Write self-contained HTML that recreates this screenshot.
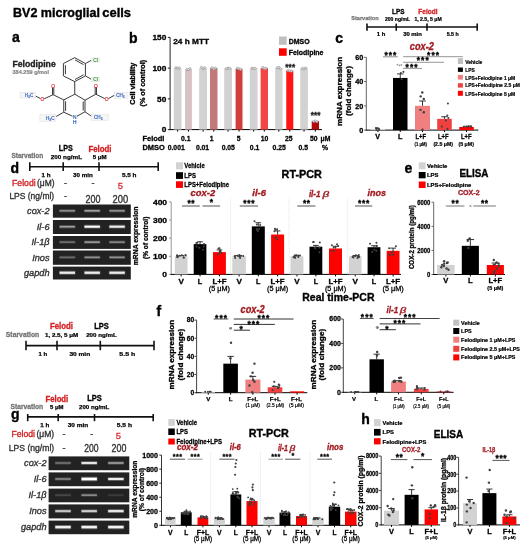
<!DOCTYPE html>
<html><head><meta charset="utf-8"><style>
html,body{margin:0;padding:0;background:#fff;}
svg{display:block;font-family:"Liberation Sans",sans-serif;}
</style></head><body>
<svg width="528" height="550" viewBox="0 0 528 550">
<defs><filter id="bl" x="0" y="0" width="100%" height="100%" color-interpolation-filters="sRGB"><feGaussianBlur stdDeviation="0.5"/></filter></defs>
<g filter="url(#bl)">
<rect width="528" height="550" fill="#fff"/>
<text x="13.00" y="16.60" font-size="12" font-weight="bold" textLength="87.00" lengthAdjust="spacingAndGlyphs" stroke="#000" stroke-width="0.35">BV2 microglial</text>
<text x="102.30" y="16.60" font-size="12" font-weight="bold" textLength="28.70" lengthAdjust="spacingAndGlyphs" stroke="#000" stroke-width="0.35">cells</text>
<text x="12.00" y="42.30" font-size="14" font-weight="bold" stroke="#000" stroke-width="0.35">a</text>
<text x="129.00" y="42.50" font-size="14" font-weight="bold" stroke="#000" stroke-width="0.35">b</text>
<text x="335.30" y="42.70" font-size="14" font-weight="bold" stroke="#000" stroke-width="0.35">c</text>
<text x="10.60" y="172.60" font-size="14" font-weight="bold" stroke="#000" stroke-width="0.35">d</text>
<text x="404.60" y="173.30" font-size="14" font-weight="bold" stroke="#000" stroke-width="0.35">e</text>
<text x="156.50" y="316.30" font-size="14" font-weight="bold" stroke="#000" stroke-width="0.35">f</text>
<text x="10.90" y="419.40" font-size="14" font-weight="bold" stroke="#000" stroke-width="0.35">g</text>
<text x="361.20" y="423.50" font-size="14" font-weight="bold" stroke="#000" stroke-width="0.35">h</text>
<text x="12.50" y="66.80" font-size="8.6" font-weight="bold" fill="#222" textLength="43.20" lengthAdjust="spacingAndGlyphs" stroke="#222" stroke-width="0.34">Felodipine</text>
<text x="12.50" y="74.20" font-size="5.4" font-weight="bold" fill="#888" textLength="36.50" lengthAdjust="spacingAndGlyphs" stroke="#888" stroke-width="0.22">384.259 g/mol</text>
<line x1="74.70" y1="57.70" x2="85.40" y2="63.50" stroke="#303030" stroke-width="0.95"/>
<line x1="85.40" y1="63.50" x2="85.40" y2="75.90" stroke="#303030" stroke-width="0.95"/>
<line x1="85.40" y1="75.90" x2="74.70" y2="81.60" stroke="#303030" stroke-width="0.95"/>
<line x1="74.70" y1="81.60" x2="63.40" y2="75.90" stroke="#303030" stroke-width="0.95"/>
<line x1="63.40" y1="75.90" x2="63.40" y2="63.50" stroke="#303030" stroke-width="0.95"/>
<line x1="63.40" y1="63.50" x2="74.70" y2="57.70" stroke="#303030" stroke-width="0.95"/>
<line x1="65.40" y1="65.20" x2="65.40" y2="74.20" stroke="#303030" stroke-width="0.95"/>
<line x1="75.00" y1="59.90" x2="83.50" y2="64.60" stroke="#303030" stroke-width="0.95"/>
<line x1="83.50" y1="74.80" x2="75.00" y2="79.50" stroke="#303030" stroke-width="0.95"/>
<line x1="74.70" y1="81.60" x2="74.80" y2="94.20" stroke="#303030" stroke-width="0.95"/>
<line x1="74.80" y1="94.20" x2="85.00" y2="100.20" stroke="#303030" stroke-width="0.95"/>
<line x1="85.00" y1="100.20" x2="85.00" y2="111.80" stroke="#303030" stroke-width="0.95"/>
<line x1="85.00" y1="111.80" x2="77.00" y2="116.20" stroke="#303030" stroke-width="0.95"/>
<line x1="72.50" y1="116.20" x2="63.75" y2="112.20" stroke="#303030" stroke-width="0.95"/>
<line x1="63.75" y1="112.20" x2="63.75" y2="99.90" stroke="#303030" stroke-width="0.95"/>
<line x1="63.75" y1="99.90" x2="74.80" y2="94.20" stroke="#303030" stroke-width="0.95"/>
<line x1="83.20" y1="101.50" x2="83.20" y2="110.50" stroke="#303030" stroke-width="0.95"/>
<line x1="65.60" y1="101.30" x2="65.60" y2="110.90" stroke="#303030" stroke-width="0.95"/>
<line x1="85.40" y1="63.50" x2="91.20" y2="60.40" stroke="#303030" stroke-width="0.95"/>
<line x1="85.40" y1="75.90" x2="91.20" y2="79.20" stroke="#303030" stroke-width="0.95"/>
<line x1="85.00" y1="100.20" x2="95.80" y2="94.20" stroke="#303030" stroke-width="0.95"/>
<line x1="95.20" y1="94.20" x2="95.20" y2="87.00" stroke="#303030" stroke-width="0.95"/>
<line x1="96.50" y1="94.20" x2="96.50" y2="87.00" stroke="#303030" stroke-width="0.95"/>
<line x1="95.80" y1="94.20" x2="104.80" y2="98.60" stroke="#303030" stroke-width="0.95"/>
<line x1="108.40" y1="98.60" x2="114.50" y2="95.20" stroke="#303030" stroke-width="0.95"/>
<line x1="63.75" y1="99.90" x2="53.10" y2="94.70" stroke="#303030" stroke-width="0.95"/>
<line x1="52.50" y1="94.70" x2="52.50" y2="87.50" stroke="#303030" stroke-width="0.95"/>
<line x1="53.80" y1="94.70" x2="53.80" y2="87.50" stroke="#303030" stroke-width="0.95"/>
<line x1="53.10" y1="94.70" x2="44.20" y2="98.80" stroke="#303030" stroke-width="0.95"/>
<line x1="40.50" y1="98.60" x2="35.50" y2="96.00" stroke="#303030" stroke-width="0.95"/>
<line x1="85.00" y1="111.80" x2="91.50" y2="116.30" stroke="#303030" stroke-width="0.95"/>
<line x1="63.75" y1="112.20" x2="56.00" y2="116.60" stroke="#303030" stroke-width="0.95"/>
<rect x="91.50" y="57.80" width="8.00" height="4.70" fill="#f6f6f6" stroke="#dddddd" stroke-width="0.5"/>
<rect x="91.50" y="77.20" width="8.00" height="4.60" fill="#f6f6f6" stroke="#dddddd" stroke-width="0.5"/>
<rect x="114.60" y="92.50" width="13.40" height="5.70" fill="#f6f6f6" stroke="#dddddd" stroke-width="0.5"/>
<rect x="91.30" y="114.70" width="17.00" height="5.60" fill="#f6f6f6" stroke="#dddddd" stroke-width="0.5"/>
<rect x="20.00" y="92.30" width="15.20" height="5.70" fill="#f6f6f6" stroke="#dddddd" stroke-width="0.5"/>
<rect x="39.90" y="114.60" width="16.10" height="6.60" fill="#f6f6f6" stroke="#dddddd" stroke-width="0.5"/>
<text x="95.50" y="62.00" font-size="4.8" fill="#3a9a3a" text-anchor="middle" stroke="#3a9a3a" stroke-width="0.19">Cl</text>
<text x="95.50" y="81.40" font-size="4.8" fill="#3a9a3a" text-anchor="middle" stroke="#3a9a3a" stroke-width="0.19">Cl</text>
<text x="95.80" y="87.70" font-size="4.8" fill="#e03030" text-anchor="middle" stroke="#e03030" stroke-width="0.19">O</text>
<text x="106.60" y="101.20" font-size="4.8" fill="#e03030" text-anchor="middle" stroke="#e03030" stroke-width="0.19">O</text>
<text x="53.10" y="88.20" font-size="4.8" fill="#e03030" text-anchor="middle" stroke="#e03030" stroke-width="0.19">O</text>
<text x="42.30" y="101.30" font-size="4.8" fill="#e03030" text-anchor="middle" stroke="#e03030" stroke-width="0.19">O</text>
<text x="120.50" y="96.80" font-size="4.6" fill="#3060c0" text-anchor="middle" stroke="#3060c0" stroke-width="0.18">CH₃</text>
<text x="98.30" y="119.20" font-size="4.6" fill="#3060c0" text-anchor="middle" stroke="#3060c0" stroke-width="0.18">CH₃</text>
<text x="29.00" y="97.20" font-size="4.6" fill="#3060c0" text-anchor="middle" stroke="#3060c0" stroke-width="0.18">H₃C</text>
<text x="50.30" y="119.50" font-size="4.6" fill="#3060c0" text-anchor="middle" stroke="#3060c0" stroke-width="0.18">H₃C</text>
<text x="74.80" y="119.40" font-size="4.8" fill="#3060c0" text-anchor="middle" stroke="#3060c0" stroke-width="0.19">N</text>
<text x="74.80" y="123.80" font-size="4.8" fill="#3060c0" text-anchor="middle" stroke="#3060c0" stroke-width="0.19">H</text>
<line x1="170.10" y1="130.10" x2="170.10" y2="37.40" stroke="#222" stroke-width="1.0"/>
<line x1="167.90" y1="129.60" x2="170.10" y2="129.60" stroke="#222" stroke-width="1.0"/>
<text x="166.30" y="132.48" font-size="8.0" font-weight="bold" text-anchor="end" textLength="4.60" lengthAdjust="spacingAndGlyphs" stroke="#000" stroke-width="0.32">0</text>
<line x1="167.90" y1="98.87" x2="170.10" y2="98.87" stroke="#222" stroke-width="1.0"/>
<text x="166.30" y="101.75" font-size="8.0" font-weight="bold" text-anchor="end" textLength="9.20" lengthAdjust="spacingAndGlyphs" stroke="#000" stroke-width="0.32">50</text>
<line x1="167.90" y1="68.13" x2="170.10" y2="68.13" stroke="#222" stroke-width="1.0"/>
<text x="166.30" y="71.01" font-size="8.0" font-weight="bold" text-anchor="end" textLength="13.80" lengthAdjust="spacingAndGlyphs" stroke="#000" stroke-width="0.32">100</text>
<line x1="167.90" y1="37.40" x2="170.10" y2="37.40" stroke="#222" stroke-width="1.0"/>
<text x="166.30" y="40.28" font-size="8.0" font-weight="bold" text-anchor="end" textLength="13.80" lengthAdjust="spacingAndGlyphs" stroke="#000" stroke-width="0.32">150</text>
<text x="135.40" y="83.75" font-size="8.0" text-anchor="middle" font-weight="bold" textLength="42.10" lengthAdjust="spacingAndGlyphs" transform="rotate(-90 135.40 83.75)" stroke="#000" stroke-width="0.32">Cell viability</text>
<text x="145.00" y="83.20" font-size="8.0" text-anchor="middle" font-weight="bold" textLength="46.60" lengthAdjust="spacingAndGlyphs" transform="rotate(-90 145.00 83.20)" stroke="#000" stroke-width="0.32">(% of control)</text>
<text x="173.20" y="43.50" font-size="7.6" font-weight="bold" textLength="35.80" lengthAdjust="spacingAndGlyphs" stroke="#000" stroke-width="0.30">24 h MTT</text>
<line x1="169.60" y1="129.60" x2="322.00" y2="129.60" stroke="#000" stroke-width="1.0"/>
<line x1="177.62" y1="129.60" x2="177.62" y2="131.60" stroke="#000" stroke-width="1.0"/>
<line x1="188.45" y1="129.60" x2="188.45" y2="131.60" stroke="#000" stroke-width="1.0"/>
<line x1="203.10" y1="129.60" x2="203.10" y2="131.60" stroke="#000" stroke-width="1.0"/>
<line x1="213.75" y1="129.60" x2="213.75" y2="131.60" stroke="#000" stroke-width="1.0"/>
<line x1="228.10" y1="129.60" x2="228.10" y2="131.60" stroke="#000" stroke-width="1.0"/>
<line x1="239.05" y1="129.60" x2="239.05" y2="131.60" stroke="#000" stroke-width="1.0"/>
<line x1="253.65" y1="129.60" x2="253.65" y2="131.60" stroke="#000" stroke-width="1.0"/>
<line x1="264.30" y1="129.60" x2="264.30" y2="131.60" stroke="#000" stroke-width="1.0"/>
<line x1="278.85" y1="129.60" x2="278.85" y2="131.60" stroke="#000" stroke-width="1.0"/>
<line x1="289.77" y1="129.60" x2="289.77" y2="131.60" stroke="#000" stroke-width="1.0"/>
<line x1="304.05" y1="129.60" x2="304.05" y2="131.60" stroke="#000" stroke-width="1.0"/>
<line x1="315.35" y1="129.60" x2="315.35" y2="131.60" stroke="#000" stroke-width="1.0"/>
<rect x="173.75" y="68.13" width="7.75" height="61.47" fill="#d2d2d2"/>
<circle cx="176.00" cy="67.71" r="1.1" fill="#e8e8e8" stroke="#888" stroke-width="0.55"/>
<circle cx="177.62" cy="68.20" r="1.1" fill="#e8e8e8" stroke="#888" stroke-width="0.55"/>
<circle cx="179.25" cy="67.93" r="1.1" fill="#e8e8e8" stroke="#888" stroke-width="0.55"/>
<rect x="185.00" y="69.36" width="6.90" height="60.24" fill="#d6c2c2"/>
<circle cx="186.83" cy="69.53" r="1.1" fill="#e8e8e8" stroke="#888" stroke-width="0.55"/>
<circle cx="188.45" cy="69.56" r="1.1" fill="#e8e8e8" stroke="#888" stroke-width="0.55"/>
<circle cx="190.07" cy="68.67" r="1.1" fill="#e8e8e8" stroke="#888" stroke-width="0.55"/>
<rect x="199.20" y="68.13" width="7.80" height="61.47" fill="#d2d2d2"/>
<circle cx="201.48" cy="67.35" r="1.1" fill="#e8e8e8" stroke="#888" stroke-width="0.55"/>
<circle cx="203.10" cy="68.67" r="1.1" fill="#e8e8e8" stroke="#888" stroke-width="0.55"/>
<circle cx="204.72" cy="67.75" r="1.1" fill="#e8e8e8" stroke="#888" stroke-width="0.55"/>
<rect x="210.00" y="68.13" width="7.50" height="61.47" fill="#c07a7a"/>
<circle cx="212.13" cy="67.71" r="1.1" fill="#e8e8e8" stroke="#888" stroke-width="0.55"/>
<circle cx="213.75" cy="68.93" r="1.1" fill="#e8e8e8" stroke="#888" stroke-width="0.55"/>
<circle cx="215.37" cy="68.09" r="1.1" fill="#e8e8e8" stroke="#888" stroke-width="0.55"/>
<rect x="224.20" y="68.13" width="7.80" height="61.47" fill="#d2d2d2"/>
<circle cx="226.48" cy="68.67" r="1.1" fill="#e8e8e8" stroke="#888" stroke-width="0.55"/>
<circle cx="228.10" cy="68.10" r="1.1" fill="#e8e8e8" stroke="#888" stroke-width="0.55"/>
<circle cx="229.72" cy="68.36" r="1.1" fill="#e8e8e8" stroke="#888" stroke-width="0.55"/>
<rect x="235.60" y="68.75" width="6.90" height="60.85" fill="#d23d3d"/>
<circle cx="237.43" cy="68.19" r="1.1" fill="#e8e8e8" stroke="#888" stroke-width="0.55"/>
<circle cx="239.05" cy="68.96" r="1.1" fill="#e8e8e8" stroke="#888" stroke-width="0.55"/>
<circle cx="240.67" cy="69.34" r="1.1" fill="#e8e8e8" stroke="#888" stroke-width="0.55"/>
<rect x="249.80" y="68.13" width="7.70" height="61.47" fill="#d2d2d2"/>
<circle cx="252.03" cy="68.17" r="1.1" fill="#e8e8e8" stroke="#888" stroke-width="0.55"/>
<circle cx="253.65" cy="68.52" r="1.1" fill="#e8e8e8" stroke="#888" stroke-width="0.55"/>
<circle cx="255.27" cy="68.41" r="1.1" fill="#e8e8e8" stroke="#888" stroke-width="0.55"/>
<rect x="260.60" y="68.13" width="7.40" height="61.47" fill="#f24646"/>
<circle cx="262.68" cy="67.44" r="1.1" fill="#e8e8e8" stroke="#888" stroke-width="0.55"/>
<circle cx="264.30" cy="68.55" r="1.1" fill="#e8e8e8" stroke="#888" stroke-width="0.55"/>
<circle cx="265.92" cy="68.28" r="1.1" fill="#e8e8e8" stroke="#888" stroke-width="0.55"/>
<rect x="275.20" y="68.13" width="7.30" height="61.47" fill="#d2d2d2"/>
<circle cx="277.23" cy="67.82" r="1.1" fill="#e8e8e8" stroke="#888" stroke-width="0.55"/>
<circle cx="278.85" cy="67.38" r="1.1" fill="#e8e8e8" stroke="#888" stroke-width="0.55"/>
<circle cx="280.47" cy="68.72" r="1.1" fill="#e8e8e8" stroke="#888" stroke-width="0.55"/>
<rect x="286.25" y="70.59" width="7.05" height="59.01" fill="#ff1515"/>
<circle cx="288.15" cy="70.55" r="1.1" fill="#e8e8e8" stroke="#888" stroke-width="0.55"/>
<circle cx="289.77" cy="70.94" r="1.1" fill="#e8e8e8" stroke="#888" stroke-width="0.55"/>
<circle cx="291.39" cy="71.20" r="1.1" fill="#e8e8e8" stroke="#888" stroke-width="0.55"/>
<rect x="300.20" y="68.13" width="7.70" height="61.47" fill="#d2d2d2"/>
<circle cx="302.43" cy="68.48" r="1.1" fill="#e8e8e8" stroke="#888" stroke-width="0.55"/>
<circle cx="304.05" cy="68.81" r="1.1" fill="#e8e8e8" stroke="#888" stroke-width="0.55"/>
<circle cx="305.67" cy="67.97" r="1.1" fill="#e8e8e8" stroke="#888" stroke-width="0.55"/>
<rect x="311.70" y="120.99" width="7.30" height="8.61" fill="#b00a0a"/>
<circle cx="313.73" cy="121.48" r="1.1" fill="#e8e8e8" stroke="#888" stroke-width="0.55"/>
<circle cx="315.35" cy="120.91" r="1.1" fill="#e8e8e8" stroke="#888" stroke-width="0.55"/>
<circle cx="316.97" cy="121.69" r="1.1" fill="#e8e8e8" stroke="#888" stroke-width="0.55"/>
<text x="285.14" y="69.78" font-size="8.2" font-weight="bold" fill="#222" stroke="#222" stroke-width="0.33" letter-spacing="0.31">***</text>
<text x="310.64" y="117.68" font-size="8.2" font-weight="bold" fill="#222" stroke="#222" stroke-width="0.33" letter-spacing="0.11">***</text>
<rect x="279.00" y="36.50" width="7.70" height="8.30" fill="#c0c0c0"/>
<text x="288.70" y="43.60" font-size="7.2" font-weight="bold" textLength="20.90" lengthAdjust="spacingAndGlyphs" stroke="#000" stroke-width="0.29">DMSO</text>
<rect x="279.00" y="48.30" width="7.70" height="7.50" fill="#ff0000"/>
<text x="288.70" y="55.20" font-size="7.2" font-weight="bold" textLength="34.80" lengthAdjust="spacingAndGlyphs" stroke="#000" stroke-width="0.29">Felodipine</text>
<text x="142.50" y="141.30" font-size="6.8" font-weight="bold" textLength="21.90" lengthAdjust="spacingAndGlyphs" stroke="#000" stroke-width="0.27">Felodi</text>
<text x="142.50" y="149.60" font-size="6.8" font-weight="bold" textLength="22.30" lengthAdjust="spacingAndGlyphs" stroke="#000" stroke-width="0.27">DMSO</text>
<text x="185.80" y="141.30" font-size="6.8" font-weight="bold" text-anchor="middle" stroke="#000" stroke-width="0.27">0.1</text>
<text x="211.70" y="141.30" font-size="6.8" font-weight="bold" text-anchor="middle" stroke="#000" stroke-width="0.27">1</text>
<text x="238.75" y="141.30" font-size="6.8" font-weight="bold" text-anchor="middle" stroke="#000" stroke-width="0.27">5</text>
<text x="264.60" y="141.30" font-size="6.8" font-weight="bold" text-anchor="middle" stroke="#000" stroke-width="0.27">10</text>
<text x="288.75" y="141.30" font-size="6.8" font-weight="bold" text-anchor="middle" stroke="#000" stroke-width="0.27">25</text>
<text x="313.75" y="141.30" font-size="6.8" font-weight="bold" text-anchor="middle" stroke="#000" stroke-width="0.27">50</text>
<text x="320.50" y="141.30" font-size="6.8" font-weight="bold" stroke="#000" stroke-width="0.27">μM</text>
<text x="176.20" y="149.60" font-size="6.8" font-weight="bold" text-anchor="middle" stroke="#000" stroke-width="0.27">0.001</text>
<text x="202.50" y="149.60" font-size="6.8" font-weight="bold" text-anchor="middle" stroke="#000" stroke-width="0.27">0.01</text>
<text x="228.30" y="149.60" font-size="6.8" font-weight="bold" text-anchor="middle" stroke="#000" stroke-width="0.27">0.05</text>
<text x="254.60" y="149.60" font-size="6.8" font-weight="bold" text-anchor="middle" stroke="#000" stroke-width="0.27">0.1</text>
<text x="279.20" y="149.60" font-size="6.8" font-weight="bold" text-anchor="middle" stroke="#000" stroke-width="0.27">0.25</text>
<text x="303.30" y="149.60" font-size="6.8" font-weight="bold" text-anchor="middle" stroke="#000" stroke-width="0.27">0.5</text>
<text x="325.00" y="149.60" font-size="6.8" font-weight="bold" text-anchor="middle" stroke="#000" stroke-width="0.27">%</text>
<line x1="367.00" y1="27.00" x2="477.20" y2="27.00" stroke="#111" stroke-width="1.6"/>
<line x1="367.00" y1="23.60" x2="367.00" y2="30.80" stroke="#111" stroke-width="1.6"/>
<line x1="396.25" y1="23.60" x2="396.25" y2="30.80" stroke="#111" stroke-width="1.6"/>
<line x1="427.00" y1="23.60" x2="427.00" y2="30.80" stroke="#111" stroke-width="1.6"/>
<line x1="477.20" y1="23.60" x2="477.20" y2="30.80" stroke="#111" stroke-width="1.6"/>
<text x="351.20" y="19.70" font-size="6.2" font-weight="bold" fill="#737373" textLength="27.40" lengthAdjust="spacingAndGlyphs" stroke="#737373" stroke-width="0.25">Starvation</text>
<text x="392.00" y="14.10" font-size="8.0" font-weight="bold" textLength="12.40" lengthAdjust="spacingAndGlyphs" stroke="#000" stroke-width="0.32">LPS</text>
<text x="385.00" y="20.60" font-size="5.9" font-weight="bold" textLength="25.00" lengthAdjust="spacingAndGlyphs" stroke="#000" stroke-width="0.24">200 ng/mL</text>
<text x="418.30" y="14.10" font-size="8.0" font-weight="bold" fill="#d42225" textLength="19.30" lengthAdjust="spacingAndGlyphs" stroke="#d42225" stroke-width="0.32">Felodi</text>
<text x="414.40" y="20.60" font-size="5.9" font-weight="bold" textLength="27.30" lengthAdjust="spacingAndGlyphs" stroke="#000" stroke-width="0.24">1, 2.5, 5 μM</text>
<text x="381.00" y="36.10" font-size="5.9" font-weight="bold" text-anchor="middle" stroke="#000" stroke-width="0.24">1 h</text>
<text x="412.50" y="36.10" font-size="5.9" font-weight="bold" text-anchor="middle" stroke="#000" stroke-width="0.24">30 min</text>
<text x="452.70" y="36.10" font-size="5.9" font-weight="bold" text-anchor="middle" textLength="12.00" lengthAdjust="spacingAndGlyphs" stroke="#000" stroke-width="0.24">5.5 h</text>
<text x="409.80" y="50.30" font-size="10" font-weight="bold" fill="#a31c22" font-style="italic" textLength="24.00" lengthAdjust="spacingAndGlyphs" stroke="#a31c22" stroke-width="0.35">cox-2</text>
<line x1="366.30" y1="130.60" x2="366.30" y2="57.30" stroke="#666" stroke-width="1.0"/>
<line x1="364.10" y1="130.10" x2="366.30" y2="130.10" stroke="#666" stroke-width="1.0"/>
<text x="363.30" y="132.98" font-size="8.0" font-weight="bold" text-anchor="end" textLength="4.05" lengthAdjust="spacingAndGlyphs" stroke="#000" stroke-width="0.32">0</text>
<line x1="364.10" y1="105.83" x2="366.30" y2="105.83" stroke="#666" stroke-width="1.0"/>
<text x="363.30" y="108.71" font-size="8.0" font-weight="bold" text-anchor="end" textLength="8.10" lengthAdjust="spacingAndGlyphs" stroke="#000" stroke-width="0.32">20</text>
<line x1="364.10" y1="81.57" x2="366.30" y2="81.57" stroke="#666" stroke-width="1.0"/>
<text x="363.30" y="84.45" font-size="8.0" font-weight="bold" text-anchor="end" textLength="8.10" lengthAdjust="spacingAndGlyphs" stroke="#000" stroke-width="0.32">40</text>
<line x1="364.10" y1="57.30" x2="366.30" y2="57.30" stroke="#666" stroke-width="1.0"/>
<text x="363.30" y="60.18" font-size="8.0" font-weight="bold" text-anchor="end" textLength="8.10" lengthAdjust="spacingAndGlyphs" stroke="#000" stroke-width="0.32">60</text>
<text x="341.80" y="91.35" font-size="8.1" text-anchor="middle" font-weight="bold" textLength="69.10" lengthAdjust="spacingAndGlyphs" transform="rotate(-90 341.80 91.35)" stroke="#000" stroke-width="0.32">mRNA expression</text>
<text x="351.00" y="91.00" font-size="8.1" text-anchor="middle" font-weight="bold" textLength="49.80" lengthAdjust="spacingAndGlyphs" transform="rotate(-90 351.00 91.00)" stroke="#000" stroke-width="0.32">(fold change)</text>
<line x1="365.80" y1="130.10" x2="478.40" y2="130.10" stroke="#000" stroke-width="1.0"/>
<line x1="377.90" y1="130.10" x2="377.90" y2="132.10" stroke="#000" stroke-width="1.0"/>
<line x1="400.25" y1="130.10" x2="400.25" y2="132.10" stroke="#000" stroke-width="1.0"/>
<line x1="422.50" y1="130.10" x2="422.50" y2="132.10" stroke="#000" stroke-width="1.0"/>
<line x1="444.48" y1="130.10" x2="444.48" y2="132.10" stroke="#000" stroke-width="1.0"/>
<line x1="466.52" y1="130.10" x2="466.52" y2="132.10" stroke="#000" stroke-width="1.0"/>
<rect x="370.60" y="128.89" width="14.60" height="1.21" fill="#d2d2d2"/>
<rect x="393.00" y="77.93" width="14.50" height="52.17" fill="#000"/>
<line x1="400.25" y1="77.93" x2="400.25" y2="73.92" stroke="#000" stroke-width="0.8"/>
<line x1="397.06" y1="73.92" x2="403.44" y2="73.92" stroke="#000" stroke-width="0.8"/>
<rect x="415.00" y="105.83" width="15.00" height="24.27" fill="#f08080"/>
<line x1="422.50" y1="105.83" x2="422.50" y2="100.98" stroke="#000" stroke-width="0.8"/>
<line x1="419.20" y1="100.98" x2="425.80" y2="100.98" stroke="#000" stroke-width="0.8"/>
<rect x="437.20" y="118.82" width="14.55" height="11.28" fill="#f04040"/>
<line x1="444.48" y1="118.82" x2="444.48" y2="116.75" stroke="#000" stroke-width="0.8"/>
<line x1="441.27" y1="116.75" x2="447.68" y2="116.75" stroke="#000" stroke-width="0.8"/>
<rect x="459.25" y="126.95" width="14.55" height="3.15" fill="#ff0000"/>
<line x1="466.52" y1="126.95" x2="466.52" y2="126.22" stroke="#000" stroke-width="0.8"/>
<line x1="463.32" y1="126.22" x2="469.73" y2="126.22" stroke="#000" stroke-width="0.8"/>
<circle cx="379.17" cy="129.64" r="1.02" fill="#404040"/>
<circle cx="375.91" cy="128.08" r="1.02" fill="#404040"/>
<circle cx="377.97" cy="128.16" r="1.02" fill="#404040"/>
<circle cx="376.76" cy="128.32" r="1.02" fill="#404040"/>
<circle cx="376.41" cy="129.82" r="1.02" fill="#404040"/>
<circle cx="378.75" cy="128.76" r="1.02" fill="#404040"/>
<circle cx="400.87" cy="73.07" r="1.02" fill="#404040"/>
<circle cx="403.43" cy="71.86" r="1.02" fill="#404040"/>
<circle cx="401.66" cy="79.14" r="1.02" fill="#404040"/>
<circle cx="422.30" cy="92.49" r="1.2" fill="#404040"/>
<circle cx="420.70" cy="96.37" r="1.2" fill="#404040"/>
<circle cx="423.80" cy="98.92" r="1.2" fill="#404040"/>
<circle cx="420.50" cy="109.84" r="1.2" fill="#404040"/>
<circle cx="423.80" cy="112.26" r="1.2" fill="#404040"/>
<circle cx="422.50" cy="129.74" r="1.2" fill="#404040"/>
<circle cx="447.93" cy="103.41" r="1.02" fill="#404040"/>
<circle cx="447.35" cy="115.54" r="1.02" fill="#404040"/>
<circle cx="448.43" cy="117.97" r="1.02" fill="#404040"/>
<circle cx="445.87" cy="120.39" r="1.02" fill="#404040"/>
<circle cx="441.80" cy="126.46" r="1.02" fill="#404040"/>
<circle cx="447.39" cy="128.89" r="1.02" fill="#404040"/>
<circle cx="471.15" cy="126.46" r="1.02" fill="#404040"/>
<circle cx="470.55" cy="126.22" r="1.02" fill="#404040"/>
<circle cx="467.19" cy="126.70" r="1.02" fill="#404040"/>
<circle cx="468.64" cy="126.34" r="1.02" fill="#404040"/>
<circle cx="463.61" cy="127.07" r="1.02" fill="#404040"/>
<line x1="383.00" y1="56.80" x2="397.80" y2="56.80" stroke="#8a8a8a" stroke-width="1.0"/>
<text x="384.50" y="57.98" font-size="8.4" font-weight="bold" stroke="#000" stroke-width="0.34" letter-spacing="1.03">***</text>
<line x1="403.10" y1="56.70" x2="462.80" y2="56.70" stroke="#8a8a8a" stroke-width="0.9"/>
<text x="427.10" y="57.88" font-size="8.4" font-weight="bold" stroke="#000" stroke-width="0.34" letter-spacing="1.03">***</text>
<line x1="403.10" y1="62.30" x2="444.00" y2="62.30" stroke="#8a8a8a" stroke-width="0.9"/>
<text x="416.80" y="63.48" font-size="8.4" font-weight="bold" stroke="#000" stroke-width="0.34" letter-spacing="1.03">***</text>
<line x1="403.10" y1="68.40" x2="422.00" y2="68.40" stroke="#8a8a8a" stroke-width="0.9"/>
<text x="405.60" y="69.58" font-size="8.4" font-weight="bold" stroke="#000" stroke-width="0.34" letter-spacing="1.03">***</text>
<circle cx="397.50" cy="64.60" r="0.9" fill="#9a9a9a"/>
<circle cx="399.50" cy="65.30" r="0.9" fill="#9a9a9a"/>
<circle cx="401.40" cy="64.90" r="0.9" fill="#9a9a9a"/>
<text x="377.60" y="139.40" font-size="7.2" font-weight="bold" text-anchor="middle" stroke="#000" stroke-width="0.29">V</text>
<text x="400.20" y="139.40" font-size="7.2" font-weight="bold" text-anchor="middle" stroke="#000" stroke-width="0.29">L</text>
<text x="420.80" y="139.40" font-size="7.2" font-weight="bold" text-anchor="middle" textLength="10.60" lengthAdjust="spacingAndGlyphs" stroke="#000" stroke-width="0.29">L+F</text>
<text x="420.80" y="145.80" font-size="5.6" font-weight="bold" text-anchor="middle" textLength="12.40" lengthAdjust="spacingAndGlyphs" stroke="#000" stroke-width="0.22">(1 μM)</text>
<text x="443.20" y="139.40" font-size="7.2" font-weight="bold" text-anchor="middle" textLength="10.60" lengthAdjust="spacingAndGlyphs" stroke="#000" stroke-width="0.29">L+F</text>
<text x="443.20" y="145.80" font-size="5.6" font-weight="bold" text-anchor="middle" textLength="19.60" lengthAdjust="spacingAndGlyphs" stroke="#000" stroke-width="0.22">(2.5 μM)</text>
<text x="466.20" y="139.40" font-size="7.2" font-weight="bold" text-anchor="middle" textLength="10.60" lengthAdjust="spacingAndGlyphs" stroke="#000" stroke-width="0.29">L+F</text>
<text x="466.20" y="145.80" font-size="5.6" font-weight="bold" text-anchor="middle" textLength="15.40" lengthAdjust="spacingAndGlyphs" stroke="#000" stroke-width="0.22">(5 μM)</text>
<rect x="457.90" y="58.20" width="5.00" height="5.80" fill="#c0c0c0"/>
<text x="465.20" y="63.50" font-size="5.8" font-weight="bold" textLength="17.20" lengthAdjust="spacingAndGlyphs" stroke="#000" stroke-width="0.23">Vehicle</text>
<rect x="457.90" y="67.50" width="5.00" height="4.40" fill="#000"/>
<text x="465.20" y="71.70" font-size="5.8" font-weight="bold" textLength="9.60" lengthAdjust="spacingAndGlyphs" stroke="#000" stroke-width="0.23">LPS</text>
<rect x="457.90" y="74.90" width="5.00" height="4.70" fill="#f08080"/>
<text x="465.20" y="79.60" font-size="5.8" font-weight="bold" textLength="50.00" lengthAdjust="spacingAndGlyphs" stroke="#000" stroke-width="0.23">LPS+Felodipine 1 μM</text>
<rect x="457.90" y="83.20" width="5.00" height="4.40" fill="#f04040"/>
<text x="465.20" y="87.30" font-size="5.8" font-weight="bold" textLength="54.70" lengthAdjust="spacingAndGlyphs" stroke="#000" stroke-width="0.23">LPS+Felodipine 2.5 μM</text>
<rect x="457.90" y="90.80" width="5.00" height="5.00" fill="#ff0000"/>
<text x="465.20" y="95.60" font-size="5.8" font-weight="bold" textLength="50.00" lengthAdjust="spacingAndGlyphs" stroke="#000" stroke-width="0.23">LPS+Felodipine 5 μM</text>
<line x1="29.80" y1="166.80" x2="158.20" y2="166.80" stroke="#111" stroke-width="1.6"/>
<line x1="29.80" y1="162.20" x2="29.80" y2="170.90" stroke="#111" stroke-width="1.6"/>
<line x1="63.20" y1="162.20" x2="63.20" y2="170.90" stroke="#111" stroke-width="1.6"/>
<line x1="99.00" y1="162.20" x2="99.00" y2="170.90" stroke="#111" stroke-width="1.6"/>
<line x1="158.20" y1="162.20" x2="158.20" y2="170.90" stroke="#111" stroke-width="1.6"/>
<text x="11.40" y="157.90" font-size="6.6" font-weight="bold" fill="#737373" textLength="31.80" lengthAdjust="spacingAndGlyphs" stroke="#737373" stroke-width="0.26">Starvation</text>
<text x="58.80" y="151.40" font-size="8.4" font-weight="bold" textLength="13.90" lengthAdjust="spacingAndGlyphs" stroke="#000" stroke-width="0.34">LPS</text>
<text x="50.80" y="159.40" font-size="6.2" font-weight="bold" textLength="31.20" lengthAdjust="spacingAndGlyphs" stroke="#000" stroke-width="0.25">200 ng/mL</text>
<text x="88.50" y="151.50" font-size="8.4" font-weight="bold" fill="#d42225" textLength="23.00" lengthAdjust="spacingAndGlyphs" stroke="#d42225" stroke-width="0.34">Felodi</text>
<text x="92.70" y="158.80" font-size="6.2" font-weight="bold" textLength="14.00" lengthAdjust="spacingAndGlyphs" stroke="#000" stroke-width="0.25">5 μM</text>
<text x="46.00" y="177.00" font-size="6.2" font-weight="bold" text-anchor="middle" stroke="#000" stroke-width="0.25">1 h</text>
<text x="82.90" y="176.60" font-size="6.2" font-weight="bold" text-anchor="middle" textLength="19.70" lengthAdjust="spacingAndGlyphs" stroke="#000" stroke-width="0.25">30 min</text>
<text x="129.20" y="176.60" font-size="6.2" font-weight="bold" text-anchor="middle" textLength="14.60" lengthAdjust="spacingAndGlyphs" stroke="#000" stroke-width="0.25">5.5 h</text>
<text x="12.10" y="185.60" font-size="9.0" fill="#d42225" textLength="23.50" lengthAdjust="spacingAndGlyphs" stroke="#d42225" stroke-width="0.35">Felodi</text>
<text x="37.00" y="185.60" font-size="9.0" fill="#333" textLength="17.50" lengthAdjust="spacingAndGlyphs" stroke="#333" stroke-width="0.35">(μM)</text>
<text x="9.40" y="199.10" font-size="9.0" fill="#333" textLength="44.80" lengthAdjust="spacingAndGlyphs" stroke="#333" stroke-width="0.35">LPS (ng/ml)</text>
<text x="65.60" y="185.60" font-size="9" fill="#333" text-anchor="middle" stroke="#333" stroke-width="0.35">-</text>
<text x="93.10" y="185.60" font-size="9" fill="#333" text-anchor="middle" stroke="#333" stroke-width="0.35">-</text>
<text x="120.40" y="189.20" font-size="9.4" fill="#d83434" text-anchor="middle" stroke="#d83434" stroke-width="0.35">5</text>
<text x="65.60" y="198.50" font-size="9" fill="#333" text-anchor="middle" stroke="#333" stroke-width="0.35">-</text>
<text x="92.90" y="202.60" font-size="10" fill="#333" text-anchor="middle" textLength="15.00" lengthAdjust="spacingAndGlyphs" stroke="#333" stroke-width="0.35">200</text>
<text x="120.30" y="202.60" font-size="10" fill="#333" text-anchor="middle" textLength="15.60" lengthAdjust="spacingAndGlyphs" stroke="#333" stroke-width="0.35">200</text>
<rect x="52.90" y="204.50" width="77.90" height="13.20" fill="#222222"/>
<rect x="59.05" y="209.10" width="16.50" height="3.40" fill="#8c8c8c" opacity="0.3" rx="1.2"/>
<rect x="59.65" y="210.00" width="15.30" height="1.60" fill="#8c8c8c"/>
<rect x="83.95" y="209.10" width="16.50" height="3.40" fill="#a0a0a0" opacity="0.3" rx="1.2"/>
<rect x="84.55" y="210.00" width="15.30" height="1.60" fill="#a0a0a0"/>
<rect x="108.85" y="209.10" width="16.50" height="3.40" fill="#909090" opacity="0.3" rx="1.2"/>
<rect x="109.45" y="210.00" width="15.30" height="1.60" fill="#909090"/>
<text x="49.50" y="214.11" font-size="9.2" fill="#333" text-anchor="end" font-style="italic" stroke="#333" stroke-width="0.35">cox-2</text>
<rect x="52.90" y="220.00" width="77.90" height="14.00" fill="#222222"/>
<rect x="59.05" y="225.00" width="16.50" height="3.40" fill="#a0a0a0" opacity="0.3" rx="1.2"/>
<rect x="59.65" y="225.90" width="15.30" height="1.60" fill="#a0a0a0"/>
<rect x="83.95" y="224.80" width="16.50" height="3.80" fill="#ffffff" opacity="0.3" rx="1.2"/>
<rect x="84.55" y="225.70" width="15.30" height="2.00" fill="#ffffff"/>
<rect x="108.85" y="224.80" width="16.50" height="3.80" fill="#f0f0f0" opacity="0.3" rx="1.2"/>
<rect x="109.45" y="225.70" width="15.30" height="2.00" fill="#f0f0f0"/>
<text x="49.50" y="230.01" font-size="9.2" fill="#333" text-anchor="end" font-style="italic" stroke="#333" stroke-width="0.35">Il-6</text>
<rect x="52.90" y="236.00" width="77.90" height="12.90" fill="#222222"/>
<rect x="59.05" y="240.45" width="16.50" height="3.40" fill="#707070" opacity="0.3" rx="1.2"/>
<rect x="59.65" y="241.35" width="15.30" height="1.60" fill="#707070"/>
<rect x="83.95" y="240.45" width="16.50" height="3.40" fill="#9a9a9a" opacity="0.3" rx="1.2"/>
<rect x="84.55" y="241.35" width="15.30" height="1.60" fill="#9a9a9a"/>
<rect x="108.85" y="240.45" width="16.50" height="3.40" fill="#888888" opacity="0.3" rx="1.2"/>
<rect x="109.45" y="241.35" width="15.30" height="1.60" fill="#888888"/>
<text x="49.50" y="245.46" font-size="9.2" fill="#333" text-anchor="end" font-style="italic" stroke="#333" stroke-width="0.35">Il-1β</text>
<rect x="52.90" y="250.50" width="77.90" height="14.30" fill="#222222"/>
<rect x="59.05" y="255.65" width="16.50" height="3.40" fill="#6c6c6c" opacity="0.3" rx="1.2"/>
<rect x="59.65" y="256.55" width="15.30" height="1.60" fill="#6c6c6c"/>
<rect x="83.95" y="255.65" width="16.50" height="3.40" fill="#909090" opacity="0.3" rx="1.2"/>
<rect x="84.55" y="256.55" width="15.30" height="1.60" fill="#909090"/>
<rect x="108.85" y="255.65" width="16.50" height="3.40" fill="#909090" opacity="0.3" rx="1.2"/>
<rect x="109.45" y="256.55" width="15.30" height="1.60" fill="#909090"/>
<text x="49.50" y="260.66" font-size="9.2" fill="#333" text-anchor="end" font-style="italic" stroke="#333" stroke-width="0.35">Inos</text>
<rect x="52.90" y="266.60" width="77.90" height="12.90" fill="#222222"/>
<rect x="59.05" y="270.75" width="16.50" height="4.00" fill="#ececec" opacity="0.3" rx="1.2"/>
<rect x="59.65" y="271.65" width="15.30" height="2.20" fill="#ececec"/>
<rect x="83.95" y="270.75" width="16.50" height="4.00" fill="#ececec" opacity="0.3" rx="1.2"/>
<rect x="84.55" y="271.65" width="15.30" height="2.20" fill="#ececec"/>
<rect x="108.85" y="270.75" width="16.50" height="4.00" fill="#ececec" opacity="0.3" rx="1.2"/>
<rect x="109.45" y="271.65" width="15.30" height="2.20" fill="#ececec"/>
<text x="49.50" y="276.06" font-size="9.2" fill="#333" text-anchor="end" font-style="italic" stroke="#333" stroke-width="0.35">gapdh</text>
<line x1="171.20" y1="274.90" x2="171.20" y2="201.90" stroke="#999" stroke-width="1.0"/>
<line x1="169.00" y1="274.40" x2="171.20" y2="274.40" stroke="#999" stroke-width="1.0"/>
<text x="167.10" y="277.14" font-size="7.6" font-weight="bold" text-anchor="end" textLength="4.73" lengthAdjust="spacingAndGlyphs" stroke="#000" stroke-width="0.30">0</text>
<line x1="169.00" y1="256.27" x2="171.20" y2="256.27" stroke="#999" stroke-width="1.0"/>
<text x="167.10" y="259.01" font-size="7.6" font-weight="bold" text-anchor="end" textLength="14.19" lengthAdjust="spacingAndGlyphs" stroke="#000" stroke-width="0.30">100</text>
<line x1="169.00" y1="238.15" x2="171.20" y2="238.15" stroke="#999" stroke-width="1.0"/>
<text x="167.10" y="240.89" font-size="7.6" font-weight="bold" text-anchor="end" textLength="14.19" lengthAdjust="spacingAndGlyphs" stroke="#000" stroke-width="0.30">200</text>
<line x1="169.00" y1="220.03" x2="171.20" y2="220.03" stroke="#999" stroke-width="1.0"/>
<text x="167.10" y="222.76" font-size="7.6" font-weight="bold" text-anchor="end" textLength="14.19" lengthAdjust="spacingAndGlyphs" stroke="#000" stroke-width="0.30">300</text>
<line x1="169.00" y1="201.90" x2="171.20" y2="201.90" stroke="#999" stroke-width="1.0"/>
<text x="167.10" y="204.64" font-size="7.6" font-weight="bold" text-anchor="end" textLength="14.19" lengthAdjust="spacingAndGlyphs" stroke="#000" stroke-width="0.30">400</text>
<text x="138.50" y="235.90" font-size="6.8" text-anchor="middle" font-weight="bold" textLength="58.60" lengthAdjust="spacingAndGlyphs" transform="rotate(-90 138.50 235.90)" stroke="#000" stroke-width="0.27">mRNA expression</text>
<text x="147.60" y="237.80" font-size="6.8" text-anchor="middle" font-weight="bold" textLength="42.40" lengthAdjust="spacingAndGlyphs" transform="rotate(-90 147.60 237.80)" stroke="#000" stroke-width="0.27">(% of control)</text>
<line x1="170.70" y1="274.40" x2="401.00" y2="274.40" stroke="#000" stroke-width="1.0"/>
<line x1="181.15" y1="274.40" x2="181.15" y2="276.40" stroke="#000" stroke-width="1.0"/>
<line x1="200.05" y1="274.40" x2="200.05" y2="276.40" stroke="#000" stroke-width="1.0"/>
<line x1="219.45" y1="274.40" x2="219.45" y2="276.40" stroke="#000" stroke-width="1.0"/>
<line x1="239.10" y1="274.40" x2="239.10" y2="276.40" stroke="#000" stroke-width="1.0"/>
<line x1="258.30" y1="274.40" x2="258.30" y2="276.40" stroke="#000" stroke-width="1.0"/>
<line x1="277.60" y1="274.40" x2="277.60" y2="276.40" stroke="#000" stroke-width="1.0"/>
<line x1="296.95" y1="274.40" x2="296.95" y2="276.40" stroke="#000" stroke-width="1.0"/>
<line x1="315.90" y1="274.40" x2="315.90" y2="276.40" stroke="#000" stroke-width="1.0"/>
<line x1="335.50" y1="274.40" x2="335.50" y2="276.40" stroke="#000" stroke-width="1.0"/>
<line x1="355.25" y1="274.40" x2="355.25" y2="276.40" stroke="#000" stroke-width="1.0"/>
<line x1="374.00" y1="274.40" x2="374.00" y2="276.40" stroke="#000" stroke-width="1.0"/>
<line x1="393.10" y1="274.40" x2="393.10" y2="276.40" stroke="#000" stroke-width="1.0"/>
<rect x="174.80" y="256.27" width="12.70" height="18.12" fill="#d2d2d2"/>
<line x1="181.15" y1="256.27" x2="181.15" y2="255.55" stroke="#000" stroke-width="0.8"/>
<line x1="178.36" y1="255.55" x2="183.94" y2="255.55" stroke="#000" stroke-width="0.8"/>
<circle cx="181.81" cy="255.37" r="1.0" fill="#404040"/>
<circle cx="177.22" cy="257.16" r="1.0" fill="#404040"/>
<circle cx="185.56" cy="255.30" r="1.0" fill="#404040"/>
<circle cx="183.86" cy="257.80" r="1.0" fill="#404040"/>
<circle cx="178.01" cy="256.75" r="1.0" fill="#404040"/>
<circle cx="183.57" cy="257.13" r="1.0" fill="#404040"/>
<circle cx="177.05" cy="255.24" r="1.0" fill="#404040"/>
<circle cx="177.05" cy="256.08" r="1.0" fill="#404040"/>
<circle cx="179.63" cy="255.74" r="1.0" fill="#404040"/>
<circle cx="185.48" cy="255.21" r="1.0" fill="#404040"/>
<rect x="193.70" y="244.13" width="12.70" height="30.27" fill="#000"/>
<line x1="200.05" y1="244.13" x2="200.05" y2="241.77" stroke="#000" stroke-width="0.8"/>
<line x1="197.26" y1="241.77" x2="202.84" y2="241.77" stroke="#000" stroke-width="0.8"/>
<circle cx="204.04" cy="244.07" r="1.0" fill="#404040"/>
<circle cx="196.67" cy="246.44" r="1.0" fill="#404040"/>
<circle cx="196.30" cy="242.92" r="1.0" fill="#404040"/>
<circle cx="199.31" cy="247.80" r="1.0" fill="#404040"/>
<circle cx="197.30" cy="242.79" r="1.0" fill="#404040"/>
<circle cx="202.99" cy="249.67" r="1.0" fill="#404040"/>
<circle cx="203.72" cy="246.39" r="1.0" fill="#404040"/>
<rect x="213.00" y="252.11" width="12.90" height="22.29" fill="#ff0000"/>
<line x1="219.45" y1="252.11" x2="219.45" y2="249.93" stroke="#000" stroke-width="0.8"/>
<line x1="216.61" y1="249.93" x2="222.29" y2="249.93" stroke="#000" stroke-width="0.8"/>
<circle cx="218.47" cy="248.57" r="1.0" fill="#404040"/>
<circle cx="219.61" cy="252.46" r="1.0" fill="#404040"/>
<circle cx="220.22" cy="250.82" r="1.0" fill="#404040"/>
<circle cx="220.41" cy="251.58" r="1.0" fill="#404040"/>
<circle cx="219.51" cy="248.18" r="1.0" fill="#404040"/>
<circle cx="221.21" cy="252.72" r="1.0" fill="#404040"/>
<circle cx="217.86" cy="254.45" r="1.0" fill="#404040"/>
<rect x="232.30" y="256.27" width="13.60" height="18.12" fill="#d2d2d2"/>
<line x1="239.10" y1="256.27" x2="239.10" y2="255.55" stroke="#000" stroke-width="0.8"/>
<line x1="236.11" y1="255.55" x2="242.09" y2="255.55" stroke="#000" stroke-width="0.8"/>
<circle cx="239.29" cy="254.90" r="1.0" fill="#404040"/>
<circle cx="234.70" cy="256.30" r="1.0" fill="#404040"/>
<circle cx="239.82" cy="256.73" r="1.0" fill="#404040"/>
<circle cx="240.14" cy="258.02" r="1.0" fill="#404040"/>
<circle cx="235.14" cy="256.03" r="1.0" fill="#404040"/>
<circle cx="238.80" cy="256.04" r="1.0" fill="#404040"/>
<circle cx="237.77" cy="255.87" r="1.0" fill="#404040"/>
<circle cx="241.24" cy="255.78" r="1.0" fill="#404040"/>
<circle cx="235.15" cy="258.02" r="1.0" fill="#404040"/>
<circle cx="243.27" cy="255.88" r="1.0" fill="#404040"/>
<rect x="251.80" y="226.37" width="13.00" height="48.03" fill="#000"/>
<line x1="258.30" y1="226.37" x2="258.30" y2="222.74" stroke="#000" stroke-width="0.8"/>
<line x1="255.44" y1="222.74" x2="261.16" y2="222.74" stroke="#000" stroke-width="0.8"/>
<circle cx="257.95" cy="231.15" r="1.0" fill="#404040"/>
<circle cx="256.86" cy="224.59" r="1.0" fill="#404040"/>
<circle cx="256.80" cy="228.98" r="1.0" fill="#404040"/>
<circle cx="259.06" cy="228.88" r="1.0" fill="#404040"/>
<circle cx="257.32" cy="230.20" r="1.0" fill="#404040"/>
<circle cx="254.52" cy="221.14" r="1.0" fill="#404040"/>
<circle cx="260.18" cy="225.04" r="1.0" fill="#404040"/>
<rect x="271.10" y="234.52" width="13.00" height="39.88" fill="#ff0000"/>
<line x1="277.60" y1="234.52" x2="277.60" y2="230.90" stroke="#000" stroke-width="0.8"/>
<line x1="274.74" y1="230.90" x2="280.46" y2="230.90" stroke="#000" stroke-width="0.8"/>
<circle cx="275.38" cy="237.56" r="1.0" fill="#404040"/>
<circle cx="275.51" cy="229.68" r="1.0" fill="#404040"/>
<circle cx="277.08" cy="239.51" r="1.0" fill="#404040"/>
<circle cx="274.41" cy="231.37" r="1.0" fill="#404040"/>
<circle cx="276.27" cy="237.36" r="1.0" fill="#404040"/>
<circle cx="277.11" cy="229.21" r="1.0" fill="#404040"/>
<circle cx="274.95" cy="228.85" r="1.0" fill="#404040"/>
<rect x="290.50" y="256.27" width="12.90" height="18.12" fill="#d2d2d2"/>
<line x1="296.95" y1="256.27" x2="296.95" y2="255.73" stroke="#000" stroke-width="0.8"/>
<line x1="294.11" y1="255.73" x2="299.79" y2="255.73" stroke="#000" stroke-width="0.8"/>
<circle cx="298.30" cy="256.99" r="1.0" fill="#404040"/>
<circle cx="296.51" cy="255.20" r="1.0" fill="#404040"/>
<circle cx="293.54" cy="257.35" r="1.0" fill="#404040"/>
<circle cx="294.17" cy="256.36" r="1.0" fill="#404040"/>
<circle cx="300.00" cy="255.46" r="1.0" fill="#404040"/>
<circle cx="294.96" cy="257.49" r="1.0" fill="#404040"/>
<circle cx="298.23" cy="255.45" r="1.0" fill="#404040"/>
<circle cx="295.56" cy="255.46" r="1.0" fill="#404040"/>
<circle cx="295.08" cy="257.66" r="1.0" fill="#404040"/>
<circle cx="294.89" cy="255.50" r="1.0" fill="#404040"/>
<rect x="309.50" y="246.67" width="12.80" height="27.73" fill="#000"/>
<line x1="315.90" y1="246.67" x2="315.90" y2="245.40" stroke="#000" stroke-width="0.8"/>
<line x1="313.08" y1="245.40" x2="318.72" y2="245.40" stroke="#000" stroke-width="0.8"/>
<circle cx="315.24" cy="248.37" r="1.0" fill="#404040"/>
<circle cx="315.18" cy="247.56" r="1.0" fill="#404040"/>
<circle cx="313.15" cy="242.00" r="1.0" fill="#404040"/>
<circle cx="319.45" cy="252.16" r="1.0" fill="#404040"/>
<circle cx="319.80" cy="242.45" r="1.0" fill="#404040"/>
<circle cx="319.50" cy="247.40" r="1.0" fill="#404040"/>
<circle cx="313.68" cy="241.93" r="1.0" fill="#404040"/>
<rect x="329.00" y="248.48" width="13.00" height="25.92" fill="#ff0000"/>
<line x1="335.50" y1="248.48" x2="335.50" y2="246.31" stroke="#000" stroke-width="0.8"/>
<line x1="332.64" y1="246.31" x2="338.36" y2="246.31" stroke="#000" stroke-width="0.8"/>
<circle cx="338.19" cy="245.94" r="1.0" fill="#404040"/>
<circle cx="335.65" cy="246.79" r="1.0" fill="#404040"/>
<circle cx="334.23" cy="250.67" r="1.0" fill="#404040"/>
<circle cx="332.04" cy="251.31" r="1.0" fill="#404040"/>
<circle cx="333.80" cy="247.56" r="1.0" fill="#404040"/>
<circle cx="331.86" cy="245.27" r="1.0" fill="#404040"/>
<circle cx="337.05" cy="244.30" r="1.0" fill="#404040"/>
<rect x="349.00" y="256.27" width="12.50" height="18.12" fill="#d2d2d2"/>
<line x1="355.25" y1="256.27" x2="355.25" y2="255.55" stroke="#000" stroke-width="0.8"/>
<line x1="352.50" y1="255.55" x2="358.00" y2="255.55" stroke="#000" stroke-width="0.8"/>
<circle cx="358.82" cy="255.07" r="1.0" fill="#404040"/>
<circle cx="355.94" cy="255.15" r="1.0" fill="#404040"/>
<circle cx="357.46" cy="258.04" r="1.0" fill="#404040"/>
<circle cx="353.45" cy="257.53" r="1.0" fill="#404040"/>
<circle cx="355.47" cy="255.92" r="1.0" fill="#404040"/>
<circle cx="359.20" cy="256.74" r="1.0" fill="#404040"/>
<circle cx="353.82" cy="256.09" r="1.0" fill="#404040"/>
<circle cx="358.50" cy="257.26" r="1.0" fill="#404040"/>
<circle cx="357.79" cy="256.53" r="1.0" fill="#404040"/>
<circle cx="352.53" cy="256.94" r="1.0" fill="#404040"/>
<rect x="367.60" y="247.21" width="12.80" height="27.19" fill="#000"/>
<line x1="374.00" y1="247.21" x2="374.00" y2="245.76" stroke="#000" stroke-width="0.8"/>
<line x1="371.18" y1="245.76" x2="376.82" y2="245.76" stroke="#000" stroke-width="0.8"/>
<circle cx="376.53" cy="246.84" r="1.0" fill="#404040"/>
<circle cx="376.33" cy="250.79" r="1.0" fill="#404040"/>
<circle cx="376.45" cy="242.63" r="1.0" fill="#404040"/>
<circle cx="370.06" cy="243.69" r="1.0" fill="#404040"/>
<circle cx="376.90" cy="245.81" r="1.0" fill="#404040"/>
<circle cx="372.17" cy="252.11" r="1.0" fill="#404040"/>
<circle cx="374.22" cy="249.73" r="1.0" fill="#404040"/>
<rect x="386.70" y="250.84" width="12.80" height="23.56" fill="#ff0000"/>
<line x1="393.10" y1="250.84" x2="393.10" y2="248.12" stroke="#000" stroke-width="0.8"/>
<line x1="390.28" y1="248.12" x2="395.92" y2="248.12" stroke="#000" stroke-width="0.8"/>
<circle cx="392.88" cy="251.56" r="1.0" fill="#404040"/>
<circle cx="389.11" cy="248.23" r="1.0" fill="#404040"/>
<circle cx="390.11" cy="255.03" r="1.0" fill="#404040"/>
<circle cx="389.65" cy="254.38" r="1.0" fill="#404040"/>
<circle cx="395.94" cy="246.36" r="1.0" fill="#404040"/>
<circle cx="393.12" cy="254.74" r="1.0" fill="#404040"/>
<circle cx="391.62" cy="252.57" r="1.0" fill="#404040"/>
<line x1="230.50" y1="198.00" x2="230.50" y2="274.40" stroke="#c8c8c8" stroke-width="0.5" stroke-dasharray="1,1"/>
<line x1="289.10" y1="198.00" x2="289.10" y2="274.40" stroke="#c8c8c8" stroke-width="0.5" stroke-dasharray="1,1"/>
<line x1="347.70" y1="198.00" x2="347.70" y2="274.40" stroke="#c8c8c8" stroke-width="0.5" stroke-dasharray="1,1"/>
<text x="190.60" y="196.10" font-size="9.6" font-weight="bold" fill="#a31c22" font-style="italic" textLength="24.50" lengthAdjust="spacingAndGlyphs" stroke="#a31c22" stroke-width="0.35">cox-2</text>
<text x="252.30" y="196.10" font-size="9.6" font-weight="bold" fill="#a31c22" font-style="italic" textLength="13.60" lengthAdjust="spacingAndGlyphs" stroke="#a31c22" stroke-width="0.35">il-6</text>
<text x="367.60" y="196.10" font-size="9.6" font-weight="bold" fill="#a31c22" font-style="italic" textLength="18.40" lengthAdjust="spacingAndGlyphs" stroke="#a31c22" stroke-width="0.35">inos</text>
<text x="308.90" y="196.90" font-size="9.6" font-weight="bold" fill="#a31c22" font-style="italic" textLength="11.60" lengthAdjust="spacingAndGlyphs" stroke="#a31c22" stroke-width="0.35">il-1</text>
<text x="322.40" y="196.90" font-size="9.0" font-family="Liberation Serif" font-style="italic" fill="#a31c22" textLength="6.60" lengthAdjust="spacingAndGlyphs" stroke="#a31c22" stroke-width="0.35">β</text>
<line x1="182.00" y1="206.00" x2="199.80" y2="206.00" stroke="#555" stroke-width="1.0"/>
<text x="187.40" y="205.68" font-size="8.4" font-weight="bold" stroke="#000" stroke-width="0.34" letter-spacing="0.53">**</text>
<line x1="202.50" y1="206.00" x2="220.10" y2="206.00" stroke="#555" stroke-width="1.0"/>
<text x="209.70" y="204.78" font-size="8.4" font-weight="bold" stroke="#000" stroke-width="0.34" letter-spacing="1.03">*</text>
<line x1="239.80" y1="206.00" x2="258.00" y2="206.00" stroke="#555" stroke-width="1.0"/>
<text x="243.30" y="205.68" font-size="8.4" font-weight="bold" stroke="#000" stroke-width="0.34" letter-spacing="0.73">***</text>
<line x1="297.30" y1="206.00" x2="315.50" y2="206.00" stroke="#555" stroke-width="1.0"/>
<text x="302.90" y="205.68" font-size="8.4" font-weight="bold" stroke="#000" stroke-width="0.34" letter-spacing="0.53">**</text>
<line x1="355.00" y1="206.00" x2="372.30" y2="206.00" stroke="#555" stroke-width="1.0"/>
<text x="358.05" y="205.68" font-size="8.4" font-weight="bold" stroke="#000" stroke-width="0.34" letter-spacing="0.73">***</text>
<text x="181.15" y="283.50" font-size="7.4" font-weight="bold" text-anchor="middle" textLength="5.40" lengthAdjust="spacingAndGlyphs" stroke="#000" stroke-width="0.30">V</text>
<text x="200.05" y="283.50" font-size="7.4" font-weight="bold" text-anchor="middle" textLength="4.40" lengthAdjust="spacingAndGlyphs" stroke="#000" stroke-width="0.30">L</text>
<text x="219.45" y="283.50" font-size="7.4" font-weight="bold" text-anchor="middle" textLength="14.10" lengthAdjust="spacingAndGlyphs" stroke="#000" stroke-width="0.30">L+F</text>
<text x="219.45" y="291.00" font-size="6.6" text-anchor="middle" textLength="21.20" lengthAdjust="spacingAndGlyphs" stroke="#000" stroke-width="0.26">(5 μM)</text>
<text x="239.10" y="283.50" font-size="7.4" font-weight="bold" text-anchor="middle" textLength="5.40" lengthAdjust="spacingAndGlyphs" stroke="#000" stroke-width="0.30">V</text>
<text x="258.30" y="283.50" font-size="7.4" font-weight="bold" text-anchor="middle" textLength="4.40" lengthAdjust="spacingAndGlyphs" stroke="#000" stroke-width="0.30">L</text>
<text x="277.60" y="283.50" font-size="7.4" font-weight="bold" text-anchor="middle" textLength="14.10" lengthAdjust="spacingAndGlyphs" stroke="#000" stroke-width="0.30">L+F</text>
<text x="277.60" y="291.00" font-size="6.6" text-anchor="middle" textLength="21.20" lengthAdjust="spacingAndGlyphs" stroke="#000" stroke-width="0.26">(5 μM)</text>
<text x="296.95" y="283.50" font-size="7.4" font-weight="bold" text-anchor="middle" textLength="5.40" lengthAdjust="spacingAndGlyphs" stroke="#000" stroke-width="0.30">V</text>
<text x="315.90" y="283.50" font-size="7.4" font-weight="bold" text-anchor="middle" textLength="4.40" lengthAdjust="spacingAndGlyphs" stroke="#000" stroke-width="0.30">L</text>
<text x="335.50" y="283.50" font-size="7.4" font-weight="bold" text-anchor="middle" textLength="14.10" lengthAdjust="spacingAndGlyphs" stroke="#000" stroke-width="0.30">L+F</text>
<text x="335.50" y="291.00" font-size="6.6" text-anchor="middle" textLength="21.20" lengthAdjust="spacingAndGlyphs" stroke="#000" stroke-width="0.26">(5 μM)</text>
<text x="355.25" y="283.50" font-size="7.4" font-weight="bold" text-anchor="middle" textLength="5.40" lengthAdjust="spacingAndGlyphs" stroke="#000" stroke-width="0.30">V</text>
<text x="374.00" y="283.50" font-size="7.4" font-weight="bold" text-anchor="middle" textLength="4.40" lengthAdjust="spacingAndGlyphs" stroke="#000" stroke-width="0.30">L</text>
<text x="393.10" y="283.50" font-size="7.4" font-weight="bold" text-anchor="middle" textLength="14.10" lengthAdjust="spacingAndGlyphs" stroke="#000" stroke-width="0.30">L+F</text>
<text x="393.10" y="291.00" font-size="6.6" text-anchor="middle" textLength="21.20" lengthAdjust="spacingAndGlyphs" stroke="#000" stroke-width="0.26">(5 μM)</text>
<rect x="176.00" y="162.30" width="7.00" height="7.00" fill="#d2d2d2"/>
<text x="184.30" y="168.30" font-size="6.4" font-weight="bold" textLength="20.40" lengthAdjust="spacingAndGlyphs" stroke="#000" stroke-width="0.26">Vehicle</text>
<rect x="176.00" y="172.20" width="7.00" height="6.70" fill="#000"/>
<text x="184.30" y="177.50" font-size="6.4" font-weight="bold" textLength="11.60" lengthAdjust="spacingAndGlyphs" stroke="#000" stroke-width="0.26">LPS</text>
<rect x="176.00" y="181.30" width="7.00" height="6.60" fill="#ff0000"/>
<text x="184.30" y="186.80" font-size="6.4" font-weight="bold" textLength="44.70" lengthAdjust="spacingAndGlyphs" stroke="#000" stroke-width="0.26">LPS+Felodipine</text>
<text x="281.60" y="177.70" font-size="10.6" font-weight="bold" textLength="40.20" lengthAdjust="spacingAndGlyphs" stroke="#000" stroke-width="0.35">RT-PCR</text>
<rect x="418.75" y="162.30" width="6.85" height="6.90" fill="#d2d2d2"/>
<text x="427.00" y="168.00" font-size="5.9" font-weight="bold" stroke="#000" stroke-width="0.24">Vehicle</text>
<rect x="418.75" y="172.00" width="6.85" height="6.30" fill="#000"/>
<text x="427.00" y="177.10" font-size="5.9" font-weight="bold" stroke="#000" stroke-width="0.24">LPS</text>
<rect x="418.75" y="181.50" width="6.85" height="6.50" fill="#ff0000"/>
<text x="427.00" y="186.80" font-size="5.9" font-weight="bold" stroke="#000" stroke-width="0.24">LPS+Felodipine</text>
<text x="459.40" y="176.50" font-size="10.6" font-weight="bold" textLength="29.10" lengthAdjust="spacingAndGlyphs" stroke="#000" stroke-width="0.35">ELISA</text>
<text x="457.90" y="195.20" font-size="7.8" font-weight="bold" fill="#a31c22" textLength="21.70" lengthAdjust="spacingAndGlyphs" stroke="#a31c22" stroke-width="0.31">COX-2</text>
<line x1="433.70" y1="275.00" x2="433.70" y2="202.20" stroke="#666" stroke-width="1.0"/>
<line x1="431.50" y1="274.50" x2="433.70" y2="274.50" stroke="#666" stroke-width="1.0"/>
<text x="430.30" y="276.88" font-size="6.6" font-weight="bold" text-anchor="end" textLength="3.28" lengthAdjust="spacingAndGlyphs" stroke="#000" stroke-width="0.26">0</text>
<line x1="431.50" y1="250.40" x2="433.70" y2="250.40" stroke="#666" stroke-width="1.0"/>
<text x="430.30" y="252.78" font-size="6.6" font-weight="bold" text-anchor="end" textLength="13.12" lengthAdjust="spacingAndGlyphs" stroke="#000" stroke-width="0.26">2000</text>
<line x1="431.50" y1="226.30" x2="433.70" y2="226.30" stroke="#666" stroke-width="1.0"/>
<text x="430.30" y="228.68" font-size="6.6" font-weight="bold" text-anchor="end" textLength="13.12" lengthAdjust="spacingAndGlyphs" stroke="#000" stroke-width="0.26">4000</text>
<line x1="431.50" y1="202.20" x2="433.70" y2="202.20" stroke="#666" stroke-width="1.0"/>
<text x="430.30" y="204.58" font-size="6.6" font-weight="bold" text-anchor="end" textLength="13.12" lengthAdjust="spacingAndGlyphs" stroke="#000" stroke-width="0.26">6000</text>
<text x="414.00" y="237.10" font-size="6.8" text-anchor="middle" font-weight="bold" textLength="64.00" lengthAdjust="spacingAndGlyphs" transform="rotate(-90 414.00 237.10)" stroke="#000" stroke-width="0.27">COX-2 protein (pg/ml)</text>
<line x1="433.20" y1="274.50" x2="505.00" y2="274.50" stroke="#000" stroke-width="1.0"/>
<line x1="445.90" y1="274.50" x2="445.90" y2="276.50" stroke="#000" stroke-width="1.0"/>
<line x1="470.35" y1="274.50" x2="470.35" y2="276.50" stroke="#000" stroke-width="1.0"/>
<line x1="495.35" y1="274.50" x2="495.35" y2="276.50" stroke="#000" stroke-width="1.0"/>
<rect x="437.20" y="264.98" width="17.40" height="9.52" fill="#d2d2d2"/>
<rect x="461.80" y="245.82" width="17.10" height="28.68" fill="#000"/>
<line x1="470.35" y1="245.82" x2="470.35" y2="239.56" stroke="#000" stroke-width="0.8"/>
<line x1="466.59" y1="239.56" x2="474.11" y2="239.56" stroke="#000" stroke-width="0.8"/>
<rect x="486.80" y="264.98" width="17.10" height="9.52" fill="#ff0000"/>
<line x1="495.35" y1="264.98" x2="495.35" y2="263.05" stroke="#000" stroke-width="0.8"/>
<line x1="491.59" y1="263.05" x2="499.11" y2="263.05" stroke="#000" stroke-width="0.8"/>
<circle cx="444.12" cy="261.25" r="1.2" fill="#404040"/>
<circle cx="447.66" cy="262.45" r="1.2" fill="#404040"/>
<circle cx="446.94" cy="263.05" r="1.2" fill="#404040"/>
<circle cx="444.23" cy="263.65" r="1.2" fill="#404040"/>
<circle cx="442.19" cy="264.86" r="1.2" fill="#404040"/>
<circle cx="443.85" cy="266.06" r="1.2" fill="#404040"/>
<circle cx="441.39" cy="267.27" r="1.2" fill="#404040"/>
<circle cx="446.57" cy="268.48" r="1.2" fill="#404040"/>
<circle cx="448.49" cy="269.68" r="1.2" fill="#404040"/>
<circle cx="469.58" cy="238.35" r="1.2" fill="#404040"/>
<circle cx="467.78" cy="240.76" r="1.2" fill="#404040"/>
<circle cx="468.37" cy="247.99" r="1.2" fill="#404040"/>
<circle cx="493.78" cy="260.04" r="1.2" fill="#404040"/>
<circle cx="496.55" cy="262.45" r="1.2" fill="#404040"/>
<circle cx="498.69" cy="263.65" r="1.2" fill="#404040"/>
<circle cx="493.86" cy="264.86" r="1.2" fill="#404040"/>
<circle cx="498.91" cy="266.06" r="1.2" fill="#404040"/>
<circle cx="496.78" cy="268.48" r="1.2" fill="#404040"/>
<circle cx="494.48" cy="270.88" r="1.2" fill="#404040"/>
<circle cx="493.77" cy="273.30" r="1.2" fill="#404040"/>
<line x1="445.70" y1="206.00" x2="464.40" y2="206.00" stroke="#777" stroke-width="1.0"/>
<text x="451.43" y="206.28" font-size="8.4" font-weight="bold" stroke="#000" stroke-width="0.34" letter-spacing="0.78">**</text>
<line x1="473.20" y1="206.00" x2="495.90" y2="206.00" stroke="#777" stroke-width="1.0"/>
<text x="481.05" y="206.28" font-size="8.4" font-weight="bold" stroke="#000" stroke-width="0.34" letter-spacing="0.53">**</text>
<circle cx="470.50" cy="206.00" r="1.1" fill="#9a9a9a"/>
<text x="445.90" y="283.20" font-size="7.6" font-weight="bold" text-anchor="middle" stroke="#000" stroke-width="0.30">V</text>
<text x="470.30" y="283.20" font-size="7.6" font-weight="bold" text-anchor="middle" stroke="#000" stroke-width="0.30">L</text>
<text x="495.30" y="283.20" font-size="7.6" font-weight="bold" text-anchor="middle" stroke="#000" stroke-width="0.30">L+F</text>
<text x="495.30" y="289.60" font-size="5.4" font-weight="bold" text-anchor="middle" stroke="#000" stroke-width="0.22">(5 μM)</text>
<line x1="26.00" y1="345.60" x2="154.00" y2="345.60" stroke="#111" stroke-width="1.6"/>
<line x1="26.00" y1="340.80" x2="26.00" y2="350.20" stroke="#111" stroke-width="1.6"/>
<line x1="57.00" y1="340.80" x2="57.00" y2="350.20" stroke="#111" stroke-width="1.6"/>
<line x1="100.30" y1="340.80" x2="100.30" y2="350.20" stroke="#111" stroke-width="1.6"/>
<line x1="154.00" y1="340.80" x2="154.00" y2="350.20" stroke="#111" stroke-width="1.6"/>
<text x="5.80" y="336.60" font-size="6.4" font-weight="bold" fill="#737373" textLength="33.50" lengthAdjust="spacingAndGlyphs" stroke="#737373" stroke-width="0.26">Starvation</text>
<text x="49.90" y="328.70" font-size="8.2" font-weight="bold" fill="#d42225" textLength="23.10" lengthAdjust="spacingAndGlyphs" stroke="#d42225" stroke-width="0.33">Felodi</text>
<text x="45.00" y="336.60" font-size="6.0" font-weight="bold" textLength="33.20" lengthAdjust="spacingAndGlyphs" stroke="#000" stroke-width="0.24">1, 2.5, 5 μM</text>
<text x="94.20" y="328.70" font-size="8.2" font-weight="bold" textLength="14.60" lengthAdjust="spacingAndGlyphs" stroke="#000" stroke-width="0.33">LPS</text>
<text x="86.20" y="336.60" font-size="6.0" font-weight="bold" textLength="30.50" lengthAdjust="spacingAndGlyphs" stroke="#000" stroke-width="0.24">200 ng/mL</text>
<text x="42.80" y="355.80" font-size="6.0" font-weight="bold" text-anchor="middle" stroke="#000" stroke-width="0.24">1 h</text>
<text x="79.80" y="355.80" font-size="6.0" font-weight="bold" text-anchor="middle" textLength="20.70" lengthAdjust="spacingAndGlyphs" stroke="#000" stroke-width="0.24">30 min</text>
<text x="127.30" y="355.80" font-size="6.0" font-weight="bold" text-anchor="middle" textLength="15.90" lengthAdjust="spacingAndGlyphs" stroke="#000" stroke-width="0.24">5.5 h</text>
<line x1="196.60" y1="393.20" x2="196.60" y2="320.10" stroke="#444" stroke-width="1.0"/>
<line x1="194.40" y1="392.70" x2="196.60" y2="392.70" stroke="#444" stroke-width="1.0"/>
<text x="194.10" y="395.08" font-size="6.6" font-weight="bold" text-anchor="end" textLength="3.70" lengthAdjust="spacingAndGlyphs" stroke="#000" stroke-width="0.26">0</text>
<line x1="194.40" y1="374.55" x2="196.60" y2="374.55" stroke="#444" stroke-width="1.0"/>
<text x="194.10" y="376.93" font-size="6.6" font-weight="bold" text-anchor="end" textLength="7.40" lengthAdjust="spacingAndGlyphs" stroke="#000" stroke-width="0.26">20</text>
<line x1="194.40" y1="356.40" x2="196.60" y2="356.40" stroke="#444" stroke-width="1.0"/>
<text x="194.10" y="358.78" font-size="6.6" font-weight="bold" text-anchor="end" textLength="7.40" lengthAdjust="spacingAndGlyphs" stroke="#000" stroke-width="0.26">40</text>
<line x1="194.40" y1="338.25" x2="196.60" y2="338.25" stroke="#444" stroke-width="1.0"/>
<text x="194.10" y="340.63" font-size="6.6" font-weight="bold" text-anchor="end" textLength="7.40" lengthAdjust="spacingAndGlyphs" stroke="#000" stroke-width="0.26">60</text>
<line x1="194.40" y1="320.10" x2="196.60" y2="320.10" stroke="#444" stroke-width="1.0"/>
<text x="194.10" y="322.48" font-size="6.6" font-weight="bold" text-anchor="end" textLength="7.40" lengthAdjust="spacingAndGlyphs" stroke="#000" stroke-width="0.26">80</text>
<line x1="196.10" y1="392.70" x2="307.30" y2="392.70" stroke="#000" stroke-width="1.0"/>
<line x1="208.25" y1="392.70" x2="208.25" y2="394.70" stroke="#000" stroke-width="1.0"/>
<line x1="230.60" y1="392.70" x2="230.60" y2="394.70" stroke="#000" stroke-width="1.0"/>
<line x1="252.90" y1="392.70" x2="252.90" y2="394.70" stroke="#000" stroke-width="1.0"/>
<line x1="275.00" y1="392.70" x2="275.00" y2="394.70" stroke="#000" stroke-width="1.0"/>
<line x1="297.10" y1="392.70" x2="297.10" y2="394.70" stroke="#000" stroke-width="1.0"/>
<rect x="201.50" y="391.79" width="13.50" height="0.91" fill="#d2d2d2"/>
<rect x="223.30" y="363.66" width="14.60" height="29.04" fill="#000"/>
<line x1="230.60" y1="363.66" x2="230.60" y2="356.40" stroke="#000" stroke-width="0.8"/>
<line x1="227.39" y1="356.40" x2="233.81" y2="356.40" stroke="#000" stroke-width="0.8"/>
<rect x="245.40" y="379.54" width="15.00" height="13.16" fill="#f08080"/>
<line x1="252.90" y1="379.54" x2="252.90" y2="376.37" stroke="#000" stroke-width="0.8"/>
<line x1="249.60" y1="376.37" x2="256.20" y2="376.37" stroke="#000" stroke-width="0.8"/>
<rect x="267.70" y="387.25" width="14.60" height="5.44" fill="#f04040"/>
<line x1="275.00" y1="387.25" x2="275.00" y2="386.35" stroke="#000" stroke-width="0.8"/>
<line x1="271.79" y1="386.35" x2="278.21" y2="386.35" stroke="#000" stroke-width="0.8"/>
<rect x="290.00" y="391.34" width="14.20" height="1.36" fill="#ff0000"/>
<text x="174.20" y="354.60" font-size="8.1" text-anchor="middle" font-weight="bold" textLength="69.60" lengthAdjust="spacingAndGlyphs" transform="rotate(-90 174.20 354.60)" stroke="#000" stroke-width="0.32">mRNA expression</text>
<text x="183.10" y="354.60" font-size="8.1" text-anchor="middle" font-weight="bold" textLength="51.60" lengthAdjust="spacingAndGlyphs" transform="rotate(-90 183.10 354.60)" stroke="#000" stroke-width="0.32">(fold change)</text>
<circle cx="230.59" cy="328.27" r="1.2" fill="#404040"/>
<circle cx="231.01" cy="342.79" r="1.2" fill="#404040"/>
<circle cx="230.44" cy="358.22" r="1.2" fill="#404040"/>
<circle cx="254.45" cy="363.66" r="1.2" fill="#404040"/>
<circle cx="252.59" cy="372.74" r="1.2" fill="#404040"/>
<circle cx="250.86" cy="376.37" r="1.2" fill="#404040"/>
<circle cx="253.19" cy="380.00" r="1.2" fill="#404040"/>
<circle cx="254.46" cy="381.81" r="1.2" fill="#404040"/>
<circle cx="249.47" cy="385.44" r="1.2" fill="#404040"/>
<circle cx="252.30" cy="392.25" r="1.2" fill="#404040"/>
<circle cx="274.26" cy="381.81" r="1.08" fill="#404040"/>
<circle cx="278.80" cy="384.53" r="1.08" fill="#404040"/>
<circle cx="279.36" cy="385.44" r="1.08" fill="#404040"/>
<circle cx="273.74" cy="386.35" r="1.08" fill="#404040"/>
<circle cx="278.98" cy="387.25" r="1.08" fill="#404040"/>
<circle cx="277.91" cy="388.16" r="1.08" fill="#404040"/>
<circle cx="272.62" cy="389.98" r="1.08" fill="#404040"/>
<circle cx="207.91" cy="391.79" r="0.96" fill="#404040"/>
<circle cx="205.19" cy="391.79" r="0.96" fill="#404040"/>
<circle cx="210.71" cy="391.79" r="0.96" fill="#404040"/>
<circle cx="209.50" cy="391.79" r="0.96" fill="#404040"/>
<text x="252.60" y="312.60" font-size="10" font-weight="bold" fill="#a31c22" text-anchor="middle" font-style="italic" textLength="24.00" lengthAdjust="spacingAndGlyphs" stroke="#a31c22" stroke-width="0.35">cox-2</text>
<line x1="213.60" y1="319.00" x2="228.40" y2="319.00" stroke="#555" stroke-width="1.0"/>
<text x="215.10" y="320.88" font-size="8.4" font-weight="bold" stroke="#000" stroke-width="0.34" letter-spacing="1.03">***</text>
<line x1="233.80" y1="319.00" x2="293.50" y2="319.00" stroke="#333" stroke-width="1.0"/>
<text x="257.50" y="320.88" font-size="8.4" font-weight="bold" stroke="#000" stroke-width="0.34" letter-spacing="1.03">***</text>
<line x1="233.80" y1="324.40" x2="274.80" y2="324.40" stroke="#333" stroke-width="1.0"/>
<text x="247.40" y="326.58" font-size="8.4" font-weight="bold" stroke="#000" stroke-width="0.34" letter-spacing="1.03">***</text>
<line x1="233.80" y1="330.20" x2="250.00" y2="330.20" stroke="#333" stroke-width="1.0"/>
<text x="239.40" y="332.18" font-size="8.4" font-weight="bold" stroke="#000" stroke-width="0.34" letter-spacing="1.03">*</text>
<circle cx="230.70" cy="328.00" r="1.0" fill="#9a9a9a"/>
<text x="208.20" y="400.80" font-size="6.2" font-weight="bold" text-anchor="middle" stroke="#000" stroke-width="0.25">V</text>
<text x="230.60" y="400.80" font-size="6.2" font-weight="bold" text-anchor="middle" stroke="#000" stroke-width="0.25">L</text>
<text x="252.80" y="400.80" font-size="6.2" font-weight="bold" text-anchor="middle" textLength="10.90" lengthAdjust="spacingAndGlyphs" stroke="#000" stroke-width="0.25">F+L</text>
<text x="252.80" y="407.30" font-size="5.2" text-anchor="middle" textLength="14.40" lengthAdjust="spacingAndGlyphs" stroke="#000" stroke-width="0.21">(1 μM)</text>
<text x="275.30" y="400.80" font-size="6.2" font-weight="bold" text-anchor="middle" textLength="10.90" lengthAdjust="spacingAndGlyphs" stroke="#000" stroke-width="0.25">F+L</text>
<text x="275.30" y="407.30" font-size="5.2" text-anchor="middle" textLength="17.80" lengthAdjust="spacingAndGlyphs" stroke="#000" stroke-width="0.21">(2.5 μM)</text>
<text x="296.50" y="400.80" font-size="6.2" font-weight="bold" text-anchor="middle" textLength="10.90" lengthAdjust="spacingAndGlyphs" stroke="#000" stroke-width="0.25">F+L</text>
<text x="296.50" y="407.30" font-size="5.2" text-anchor="middle" textLength="14.80" lengthAdjust="spacingAndGlyphs" stroke="#000" stroke-width="0.21">(5 μM)</text>
<line x1="343.30" y1="392.80" x2="343.30" y2="319.00" stroke="#444" stroke-width="1.0"/>
<line x1="341.10" y1="392.30" x2="343.30" y2="392.30" stroke="#444" stroke-width="1.0"/>
<text x="340.90" y="394.68" font-size="6.6" font-weight="bold" text-anchor="end" textLength="3.87" lengthAdjust="spacingAndGlyphs" stroke="#000" stroke-width="0.26">0</text>
<line x1="341.10" y1="367.87" x2="343.30" y2="367.87" stroke="#444" stroke-width="1.0"/>
<text x="340.90" y="370.24" font-size="6.6" font-weight="bold" text-anchor="end" textLength="11.61" lengthAdjust="spacingAndGlyphs" stroke="#000" stroke-width="0.26">200</text>
<line x1="341.10" y1="343.43" x2="343.30" y2="343.43" stroke="#444" stroke-width="1.0"/>
<text x="340.90" y="345.81" font-size="6.6" font-weight="bold" text-anchor="end" textLength="11.61" lengthAdjust="spacingAndGlyphs" stroke="#000" stroke-width="0.26">400</text>
<line x1="341.10" y1="319.00" x2="343.30" y2="319.00" stroke="#444" stroke-width="1.0"/>
<text x="340.90" y="321.38" font-size="6.6" font-weight="bold" text-anchor="end" textLength="11.61" lengthAdjust="spacingAndGlyphs" stroke="#000" stroke-width="0.26">600</text>
<line x1="342.80" y1="392.30" x2="453.60" y2="392.30" stroke="#000" stroke-width="1.0"/>
<line x1="354.80" y1="392.30" x2="354.80" y2="394.30" stroke="#000" stroke-width="1.0"/>
<line x1="376.70" y1="392.30" x2="376.70" y2="394.30" stroke="#000" stroke-width="1.0"/>
<line x1="398.50" y1="392.30" x2="398.50" y2="394.30" stroke="#000" stroke-width="1.0"/>
<line x1="421.25" y1="392.30" x2="421.25" y2="394.30" stroke="#000" stroke-width="1.0"/>
<line x1="443.75" y1="392.30" x2="443.75" y2="394.30" stroke="#000" stroke-width="1.0"/>
<rect x="348.00" y="391.93" width="13.60" height="0.37" fill="#d2d2d2"/>
<rect x="369.50" y="359.31" width="14.40" height="32.99" fill="#000"/>
<line x1="376.70" y1="359.31" x2="376.70" y2="354.18" stroke="#000" stroke-width="0.8"/>
<line x1="373.53" y1="354.18" x2="379.87" y2="354.18" stroke="#000" stroke-width="0.8"/>
<rect x="391.10" y="381.55" width="14.80" height="10.75" fill="#f08080"/>
<line x1="398.50" y1="381.55" x2="398.50" y2="380.69" stroke="#000" stroke-width="0.8"/>
<line x1="395.24" y1="380.69" x2="401.76" y2="380.69" stroke="#000" stroke-width="0.8"/>
<rect x="413.90" y="388.88" width="14.70" height="3.42" fill="#f04040"/>
<line x1="421.25" y1="388.88" x2="421.25" y2="388.02" stroke="#000" stroke-width="0.8"/>
<line x1="418.02" y1="388.02" x2="424.48" y2="388.02" stroke="#000" stroke-width="0.8"/>
<rect x="436.60" y="391.57" width="14.30" height="0.73" fill="#ff0000"/>
<text x="316.40" y="354.60" font-size="8.1" text-anchor="middle" font-weight="bold" textLength="69.60" lengthAdjust="spacingAndGlyphs" transform="rotate(-90 316.40 354.60)" stroke="#000" stroke-width="0.32">mRNA expression</text>
<text x="324.20" y="354.60" font-size="8.1" text-anchor="middle" font-weight="bold" textLength="51.60" lengthAdjust="spacingAndGlyphs" transform="rotate(-90 324.20 354.60)" stroke="#000" stroke-width="0.32">(fold change)</text>
<circle cx="377.37" cy="327.55" r="1.2" fill="#404040"/>
<circle cx="377.18" cy="351.99" r="1.2" fill="#404040"/>
<circle cx="376.94" cy="355.65" r="1.2" fill="#404040"/>
<circle cx="400.94" cy="377.64" r="1.2" fill="#404040"/>
<circle cx="399.24" cy="377.88" r="1.2" fill="#404040"/>
<circle cx="394.63" cy="380.69" r="1.2" fill="#404040"/>
<circle cx="399.48" cy="381.06" r="1.2" fill="#404040"/>
<circle cx="393.65" cy="381.31" r="1.2" fill="#404040"/>
<circle cx="395.04" cy="381.55" r="1.2" fill="#404040"/>
<circle cx="401.34" cy="381.79" r="1.2" fill="#404040"/>
<circle cx="394.04" cy="381.92" r="1.2" fill="#404040"/>
<circle cx="416.92" cy="386.19" r="1.08" fill="#404040"/>
<circle cx="416.99" cy="387.41" r="1.08" fill="#404040"/>
<circle cx="424.80" cy="388.02" r="1.08" fill="#404040"/>
<circle cx="417.79" cy="388.63" r="1.08" fill="#404040"/>
<circle cx="416.23" cy="389.25" r="1.08" fill="#404040"/>
<circle cx="424.42" cy="389.86" r="1.08" fill="#404040"/>
<circle cx="440.51" cy="391.57" r="0.96" fill="#404040"/>
<circle cx="447.74" cy="391.57" r="0.96" fill="#404040"/>
<circle cx="446.04" cy="391.57" r="0.96" fill="#404040"/>
<circle cx="447.66" cy="391.57" r="0.96" fill="#404040"/>
<circle cx="358.42" cy="391.93" r="0.96" fill="#404040"/>
<circle cx="355.43" cy="391.93" r="0.96" fill="#404040"/>
<circle cx="357.19" cy="391.93" r="0.96" fill="#404040"/>
<circle cx="351.09" cy="391.93" r="0.96" fill="#404040"/>
<circle cx="356.94" cy="391.93" r="0.96" fill="#404040"/>
<circle cx="354.89" cy="391.93" r="0.96" fill="#404040"/>
<text x="386.60" y="312.60" font-size="9.7" font-weight="bold" fill="#a31c22" font-style="italic" textLength="11.60" lengthAdjust="spacingAndGlyphs" stroke="#a31c22" stroke-width="0.35">il-1</text>
<text x="399.70" y="312.60" font-size="9.0" font-family="Liberation Serif" font-style="italic" fill="#a31c22" textLength="6.40" lengthAdjust="spacingAndGlyphs" stroke="#a31c22" stroke-width="0.35">β</text>
<line x1="359.90" y1="318.50" x2="373.60" y2="318.50" stroke="#555" stroke-width="1.0"/>
<text x="360.85" y="320.38" font-size="8.4" font-weight="bold" stroke="#000" stroke-width="0.34" letter-spacing="1.03">***</text>
<line x1="379.70" y1="318.50" x2="439.60" y2="318.50" stroke="#444" stroke-width="1.0"/>
<text x="403.70" y="320.38" font-size="8.4" font-weight="bold" stroke="#000" stroke-width="0.34" letter-spacing="1.03">***</text>
<line x1="379.70" y1="323.90" x2="420.50" y2="323.90" stroke="#333" stroke-width="1.0"/>
<text x="393.40" y="326.08" font-size="8.4" font-weight="bold" stroke="#000" stroke-width="0.34" letter-spacing="1.03">***</text>
<line x1="379.70" y1="329.70" x2="395.90" y2="329.70" stroke="#333" stroke-width="1.0"/>
<text x="385.30" y="331.58" font-size="8.4" font-weight="bold" stroke="#000" stroke-width="0.34" letter-spacing="1.03">*</text>
<circle cx="376.60" cy="327.30" r="1.0" fill="#9a9a9a"/>
<text x="354.10" y="400.70" font-size="6.0" font-weight="bold" text-anchor="middle" stroke="#000" stroke-width="0.24">V</text>
<text x="376.40" y="400.70" font-size="6.0" font-weight="bold" text-anchor="middle" stroke="#000" stroke-width="0.24">L</text>
<text x="398.70" y="400.70" font-size="5.8" font-weight="bold" text-anchor="middle" textLength="9.60" lengthAdjust="spacingAndGlyphs" stroke="#000" stroke-width="0.23">F+L</text>
<text x="398.70" y="407.60" font-size="4.8" text-anchor="middle" textLength="12.10" lengthAdjust="spacingAndGlyphs" stroke="#000" stroke-width="0.19">(1 μM)</text>
<text x="421.10" y="400.70" font-size="5.8" font-weight="bold" text-anchor="middle" textLength="9.60" lengthAdjust="spacingAndGlyphs" stroke="#000" stroke-width="0.23">F+L</text>
<text x="421.10" y="407.60" font-size="4.8" text-anchor="middle" textLength="15.90" lengthAdjust="spacingAndGlyphs" stroke="#000" stroke-width="0.19">(2.5 μM)</text>
<text x="443.70" y="400.70" font-size="5.8" font-weight="bold" text-anchor="middle" textLength="9.60" lengthAdjust="spacingAndGlyphs" stroke="#000" stroke-width="0.23">F+L</text>
<text x="443.70" y="407.60" font-size="4.8" text-anchor="middle" textLength="12.90" lengthAdjust="spacingAndGlyphs" stroke="#000" stroke-width="0.19">(5 μM)</text>
<rect x="453.25" y="319.70" width="6.05" height="6.00" fill="#c0c0c0"/>
<text x="461.10" y="324.70" font-size="5.4" font-weight="bold" stroke="#000" stroke-width="0.22">Vehicle</text>
<rect x="453.25" y="328.00" width="6.05" height="6.00" fill="#000"/>
<text x="461.10" y="333.00" font-size="5.4" font-weight="bold" stroke="#000" stroke-width="0.22">LPS</text>
<rect x="453.25" y="336.70" width="6.05" height="6.00" fill="#f08080"/>
<text x="461.10" y="341.70" font-size="5.4" font-weight="bold" stroke="#000" stroke-width="0.22">Felodipine 1 μM+LPS</text>
<rect x="453.25" y="345.80" width="6.05" height="6.00" fill="#f04040"/>
<text x="461.10" y="350.80" font-size="5.4" font-weight="bold" stroke="#000" stroke-width="0.22">Felodipine 2.5 μM+LPS</text>
<rect x="453.25" y="354.40" width="6.05" height="6.00" fill="#ff0000"/>
<text x="461.10" y="359.40" font-size="5.4" font-weight="bold" stroke="#000" stroke-width="0.22">Felodipine 5 μM+LPS</text>
<text x="302.30" y="301.40" font-size="10.6" font-weight="bold" textLength="72.20" lengthAdjust="spacingAndGlyphs" stroke="#000" stroke-width="0.35">Real time-PCR</text>
<line x1="27.70" y1="416.90" x2="153.20" y2="416.90" stroke="#111" stroke-width="1.6"/>
<line x1="27.70" y1="414.00" x2="27.70" y2="421.20" stroke="#111" stroke-width="1.6"/>
<line x1="58.20" y1="414.00" x2="58.20" y2="421.20" stroke="#111" stroke-width="1.6"/>
<line x1="94.50" y1="414.00" x2="94.50" y2="421.20" stroke="#111" stroke-width="1.6"/>
<line x1="153.20" y1="414.00" x2="153.20" y2="421.20" stroke="#111" stroke-width="1.6"/>
<text x="10.60" y="409.00" font-size="6.6" font-weight="bold" fill="#737373" textLength="32.60" lengthAdjust="spacingAndGlyphs" stroke="#737373" stroke-width="0.26">Starvation</text>
<text x="45.50" y="401.50" font-size="8.4" font-weight="bold" fill="#d42225" textLength="22.70" lengthAdjust="spacingAndGlyphs" stroke="#d42225" stroke-width="0.34">Felodi</text>
<text x="50.00" y="409.00" font-size="6.2" font-weight="bold" textLength="13.60" lengthAdjust="spacingAndGlyphs" stroke="#000" stroke-width="0.25">5 μM</text>
<text x="87.30" y="400.90" font-size="8.4" font-weight="bold" textLength="14.50" lengthAdjust="spacingAndGlyphs" stroke="#000" stroke-width="0.34">LPS</text>
<text x="79.00" y="409.00" font-size="6.2" font-weight="bold" textLength="30.30" lengthAdjust="spacingAndGlyphs" stroke="#000" stroke-width="0.25">200 ng/mL</text>
<text x="44.70" y="427.30" font-size="6.2" font-weight="bold" text-anchor="middle" stroke="#000" stroke-width="0.25">1 h</text>
<text x="77.90" y="427.30" font-size="6.2" font-weight="bold" text-anchor="middle" textLength="20.50" lengthAdjust="spacingAndGlyphs" stroke="#000" stroke-width="0.25">30 min</text>
<text x="124.40" y="427.30" font-size="6.2" font-weight="bold" text-anchor="middle" textLength="15.20" lengthAdjust="spacingAndGlyphs" stroke="#000" stroke-width="0.25">5.5 h</text>
<text x="11.40" y="436.90" font-size="9.0" fill="#d42225" textLength="23.50" lengthAdjust="spacingAndGlyphs" stroke="#d42225" stroke-width="0.35">Felodi</text>
<text x="36.50" y="436.90" font-size="9.0" fill="#333" textLength="17.70" lengthAdjust="spacingAndGlyphs" stroke="#333" stroke-width="0.35">(μM)</text>
<text x="8.80" y="451.00" font-size="9.0" fill="#333" textLength="45.40" lengthAdjust="spacingAndGlyphs" stroke="#333" stroke-width="0.35">LPS (ng/ml)</text>
<text x="63.90" y="437.10" font-size="9" fill="#333" text-anchor="middle" stroke="#333" stroke-width="0.35">-</text>
<text x="91.80" y="437.10" font-size="9" fill="#333" text-anchor="middle" stroke="#333" stroke-width="0.35">-</text>
<text x="118.40" y="439.30" font-size="9.4" fill="#d83434" text-anchor="middle" stroke="#d83434" stroke-width="0.35">5</text>
<text x="63.90" y="450.50" font-size="9" fill="#333" text-anchor="middle" stroke="#333" stroke-width="0.35">-</text>
<text x="91.45" y="452.40" font-size="10" fill="#333" text-anchor="middle" textLength="14.30" lengthAdjust="spacingAndGlyphs" stroke="#333" stroke-width="0.35">200</text>
<text x="119.00" y="452.40" font-size="10" fill="#333" text-anchor="middle" textLength="14.80" lengthAdjust="spacingAndGlyphs" stroke="#333" stroke-width="0.35">200</text>
<rect x="48.60" y="456.40" width="80.70" height="13.80" fill="#222222"/>
<rect x="54.75" y="461.30" width="16.50" height="3.40" fill="#747474" opacity="0.3" rx="1.2"/>
<rect x="55.35" y="462.20" width="15.30" height="1.60" fill="#747474"/>
<rect x="80.95" y="461.10" width="16.50" height="3.80" fill="#e4e4e4" opacity="0.3" rx="1.2"/>
<rect x="81.55" y="462.00" width="15.30" height="2.00" fill="#e4e4e4"/>
<rect x="107.65" y="461.30" width="16.50" height="3.40" fill="#a0a0a0" opacity="0.3" rx="1.2"/>
<rect x="108.25" y="462.20" width="15.30" height="1.60" fill="#a0a0a0"/>
<text x="46.50" y="466.31" font-size="9.2" fill="#333" text-anchor="end" font-style="italic" stroke="#333" stroke-width="0.35">cox-2</text>
<rect x="48.60" y="472.40" width="80.70" height="13.80" fill="#222222"/>
<rect x="54.75" y="477.30" width="16.50" height="3.40" fill="#888888" opacity="0.3" rx="1.2"/>
<rect x="55.35" y="478.20" width="15.30" height="1.60" fill="#888888"/>
<rect x="80.95" y="476.80" width="16.50" height="4.40" fill="#ffffff" opacity="0.3" rx="1.2"/>
<rect x="81.55" y="477.70" width="15.30" height="2.60" fill="#ffffff"/>
<rect x="107.65" y="477.10" width="16.50" height="3.80" fill="#ececec" opacity="0.3" rx="1.2"/>
<rect x="108.25" y="478.00" width="15.30" height="2.00" fill="#ececec"/>
<text x="46.50" y="482.31" font-size="9.2" fill="#333" text-anchor="end" font-style="italic" stroke="#333" stroke-width="0.35">Il-6</text>
<rect x="48.60" y="488.60" width="80.70" height="13.70" fill="#222222"/>
<rect x="54.75" y="493.45" width="16.50" height="3.40" fill="#484848" opacity="0.3" rx="1.2"/>
<rect x="55.35" y="494.35" width="15.30" height="1.60" fill="#484848"/>
<rect x="80.95" y="493.45" width="16.50" height="3.40" fill="#8c8c8c" opacity="0.3" rx="1.2"/>
<rect x="81.55" y="494.35" width="15.30" height="1.60" fill="#8c8c8c"/>
<rect x="107.65" y="493.45" width="16.50" height="3.40" fill="#3c3c3c" opacity="0.3" rx="1.2"/>
<rect x="108.25" y="494.35" width="15.30" height="1.60" fill="#3c3c3c"/>
<text x="46.50" y="498.46" font-size="9.2" fill="#333" text-anchor="end" font-style="italic" stroke="#333" stroke-width="0.35">Il-1β</text>
<rect x="48.60" y="504.40" width="80.70" height="14.00" fill="#222222"/>
<rect x="54.75" y="509.20" width="16.50" height="3.80" fill="#c4c4c4" opacity="0.3" rx="1.2"/>
<rect x="55.35" y="510.10" width="15.30" height="2.00" fill="#c4c4c4"/>
<rect x="80.95" y="509.20" width="16.50" height="3.80" fill="#cccccc" opacity="0.3" rx="1.2"/>
<rect x="81.55" y="510.10" width="15.30" height="2.00" fill="#cccccc"/>
<rect x="107.65" y="509.10" width="16.50" height="4.00" fill="#e4e4e4" opacity="0.3" rx="1.2"/>
<rect x="108.25" y="510.00" width="15.30" height="2.20" fill="#e4e4e4"/>
<text x="46.50" y="514.41" font-size="9.2" fill="#333" text-anchor="end" font-style="italic" stroke="#333" stroke-width="0.35">Inos</text>
<rect x="48.60" y="520.60" width="80.70" height="13.60" fill="#222222"/>
<rect x="54.75" y="525.00" width="16.50" height="4.20" fill="#f2f2f2" opacity="0.3" rx="1.2"/>
<rect x="55.35" y="525.90" width="15.30" height="2.40" fill="#f2f2f2"/>
<rect x="80.95" y="525.00" width="16.50" height="4.20" fill="#f2f2f2" opacity="0.3" rx="1.2"/>
<rect x="81.55" y="525.90" width="15.30" height="2.40" fill="#f2f2f2"/>
<rect x="107.65" y="525.00" width="16.50" height="4.20" fill="#f2f2f2" opacity="0.3" rx="1.2"/>
<rect x="108.25" y="525.90" width="15.30" height="2.40" fill="#f2f2f2"/>
<text x="46.50" y="530.41" font-size="9.2" fill="#333" text-anchor="end" font-style="italic" stroke="#333" stroke-width="0.35">gapdh</text>
<line x1="161.50" y1="525.80" x2="161.50" y2="455.10" stroke="#333" stroke-width="1.0"/>
<line x1="159.30" y1="525.30" x2="161.50" y2="525.30" stroke="#333" stroke-width="1.0"/>
<text x="158.00" y="527.75" font-size="6.8" font-weight="bold" text-anchor="end" textLength="3.95" lengthAdjust="spacingAndGlyphs" stroke="#000" stroke-width="0.27">0</text>
<line x1="159.30" y1="511.26" x2="161.50" y2="511.26" stroke="#333" stroke-width="1.0"/>
<text x="158.00" y="513.71" font-size="6.8" font-weight="bold" text-anchor="end" textLength="11.85" lengthAdjust="spacingAndGlyphs" stroke="#000" stroke-width="0.27">200</text>
<line x1="159.30" y1="497.22" x2="161.50" y2="497.22" stroke="#333" stroke-width="1.0"/>
<text x="158.00" y="499.67" font-size="6.8" font-weight="bold" text-anchor="end" textLength="11.85" lengthAdjust="spacingAndGlyphs" stroke="#000" stroke-width="0.27">400</text>
<line x1="159.30" y1="483.18" x2="161.50" y2="483.18" stroke="#333" stroke-width="1.0"/>
<text x="158.00" y="485.63" font-size="6.8" font-weight="bold" text-anchor="end" textLength="11.85" lengthAdjust="spacingAndGlyphs" stroke="#000" stroke-width="0.27">600</text>
<line x1="159.30" y1="469.14" x2="161.50" y2="469.14" stroke="#333" stroke-width="1.0"/>
<text x="158.00" y="471.59" font-size="6.8" font-weight="bold" text-anchor="end" textLength="11.85" lengthAdjust="spacingAndGlyphs" stroke="#000" stroke-width="0.27">800</text>
<line x1="159.30" y1="455.10" x2="161.50" y2="455.10" stroke="#333" stroke-width="1.0"/>
<text x="158.00" y="457.55" font-size="6.8" font-weight="bold" text-anchor="end" textLength="15.80" lengthAdjust="spacingAndGlyphs" stroke="#000" stroke-width="0.27">1000</text>
<text x="137.00" y="489.20" font-size="6.7" text-anchor="middle" font-weight="bold" textLength="57.30" lengthAdjust="spacingAndGlyphs" transform="rotate(-90 137.00 489.20)" stroke="#000" stroke-width="0.27">mRNA expression</text>
<text x="143.80" y="489.60" font-size="6.7" text-anchor="middle" font-weight="bold" textLength="43.40" lengthAdjust="spacingAndGlyphs" transform="rotate(-90 143.80 489.60)" stroke="#000" stroke-width="0.27">(% of control)</text>
<line x1="161.00" y1="525.30" x2="357.20" y2="525.30" stroke="#000" stroke-width="1.0"/>
<line x1="170.40" y1="525.30" x2="170.40" y2="527.30" stroke="#000" stroke-width="1.0"/>
<line x1="186.25" y1="525.30" x2="186.25" y2="527.30" stroke="#000" stroke-width="1.0"/>
<line x1="202.90" y1="525.30" x2="202.90" y2="527.30" stroke="#000" stroke-width="1.0"/>
<line x1="219.38" y1="525.30" x2="219.38" y2="527.30" stroke="#000" stroke-width="1.0"/>
<line x1="235.82" y1="525.30" x2="235.82" y2="527.30" stroke="#000" stroke-width="1.0"/>
<line x1="252.00" y1="525.30" x2="252.00" y2="527.30" stroke="#000" stroke-width="1.0"/>
<line x1="269.00" y1="525.30" x2="269.00" y2="527.30" stroke="#000" stroke-width="1.0"/>
<line x1="284.95" y1="525.30" x2="284.95" y2="527.30" stroke="#000" stroke-width="1.0"/>
<line x1="301.50" y1="525.30" x2="301.50" y2="527.30" stroke="#000" stroke-width="1.0"/>
<line x1="318.00" y1="525.30" x2="318.00" y2="527.30" stroke="#000" stroke-width="1.0"/>
<line x1="334.50" y1="525.30" x2="334.50" y2="527.30" stroke="#000" stroke-width="1.0"/>
<line x1="350.75" y1="525.30" x2="350.75" y2="527.30" stroke="#000" stroke-width="1.0"/>
<rect x="165.20" y="518.28" width="10.40" height="7.02" fill="#d2d2d2"/>
<line x1="170.40" y1="518.28" x2="170.40" y2="517.93" stroke="#000" stroke-width="0.8"/>
<line x1="168.11" y1="517.93" x2="172.69" y2="517.93" stroke="#000" stroke-width="0.8"/>
<circle cx="166.78" cy="517.98" r="0.95" fill="#404040"/>
<circle cx="174.40" cy="517.91" r="0.95" fill="#404040"/>
<circle cx="168.78" cy="519.22" r="0.95" fill="#404040"/>
<circle cx="173.42" cy="518.26" r="0.95" fill="#404040"/>
<circle cx="167.45" cy="518.87" r="0.95" fill="#404040"/>
<circle cx="171.47" cy="518.86" r="0.95" fill="#404040"/>
<circle cx="169.42" cy="517.90" r="0.95" fill="#404040"/>
<circle cx="169.45" cy="518.64" r="0.95" fill="#404040"/>
<circle cx="169.65" cy="518.67" r="0.95" fill="#404040"/>
<circle cx="170.40" cy="519.18" r="0.95" fill="#404040"/>
<circle cx="169.60" cy="517.49" r="0.95" fill="#404040"/>
<circle cx="167.28" cy="517.92" r="0.95" fill="#404040"/>
<circle cx="172.76" cy="518.02" r="0.95" fill="#404040"/>
<circle cx="170.56" cy="518.06" r="0.95" fill="#404040"/>
<circle cx="171.72" cy="518.42" r="0.95" fill="#404040"/>
<circle cx="167.17" cy="517.63" r="0.95" fill="#404040"/>
<rect x="180.80" y="512.31" width="10.90" height="12.99" fill="#000"/>
<line x1="186.25" y1="512.31" x2="186.25" y2="511.26" stroke="#000" stroke-width="0.8"/>
<line x1="183.85" y1="511.26" x2="188.65" y2="511.26" stroke="#000" stroke-width="0.8"/>
<circle cx="188.33" cy="514.41" r="0.9" fill="#404040"/>
<circle cx="186.39" cy="510.15" r="0.9" fill="#404040"/>
<circle cx="188.09" cy="512.61" r="0.9" fill="#404040"/>
<circle cx="184.30" cy="513.94" r="0.9" fill="#404040"/>
<circle cx="186.97" cy="513.88" r="0.9" fill="#404040"/>
<circle cx="184.00" cy="513.27" r="0.9" fill="#404040"/>
<circle cx="190.06" cy="511.32" r="0.9" fill="#404040"/>
<circle cx="187.97" cy="513.37" r="0.9" fill="#404040"/>
<circle cx="189.22" cy="512.76" r="0.9" fill="#404040"/>
<circle cx="184.29" cy="511.87" r="0.9" fill="#404040"/>
<circle cx="182.24" cy="513.78" r="0.9" fill="#404040"/>
<circle cx="185.27" cy="512.42" r="0.9" fill="#404040"/>
<circle cx="185.08" cy="514.02" r="0.9" fill="#404040"/>
<circle cx="188.55" cy="513.24" r="0.9" fill="#404040"/>
<rect x="197.50" y="517.37" width="10.80" height="7.93" fill="#ff0000"/>
<line x1="202.90" y1="517.37" x2="202.90" y2="516.88" stroke="#000" stroke-width="0.8"/>
<line x1="200.52" y1="516.88" x2="205.28" y2="516.88" stroke="#000" stroke-width="0.8"/>
<circle cx="207.03" cy="518.50" r="0.9" fill="#404040"/>
<circle cx="203.73" cy="517.43" r="0.9" fill="#404040"/>
<circle cx="205.71" cy="517.47" r="0.9" fill="#404040"/>
<circle cx="203.38" cy="516.35" r="0.9" fill="#404040"/>
<circle cx="204.75" cy="517.43" r="0.9" fill="#404040"/>
<circle cx="202.06" cy="516.24" r="0.9" fill="#404040"/>
<circle cx="206.77" cy="516.63" r="0.9" fill="#404040"/>
<circle cx="200.63" cy="517.47" r="0.9" fill="#404040"/>
<circle cx="204.73" cy="518.21" r="0.9" fill="#404040"/>
<circle cx="206.75" cy="516.81" r="0.9" fill="#404040"/>
<circle cx="200.73" cy="516.24" r="0.9" fill="#404040"/>
<circle cx="200.87" cy="518.35" r="0.9" fill="#404040"/>
<circle cx="204.62" cy="518.36" r="0.9" fill="#404040"/>
<circle cx="206.26" cy="516.23" r="0.9" fill="#404040"/>
<rect x="213.75" y="518.28" width="11.25" height="7.02" fill="#d2d2d2"/>
<line x1="219.38" y1="518.28" x2="219.38" y2="517.93" stroke="#000" stroke-width="0.8"/>
<line x1="216.90" y1="517.93" x2="221.85" y2="517.93" stroke="#000" stroke-width="0.8"/>
<circle cx="222.73" cy="518.85" r="0.95" fill="#404040"/>
<circle cx="218.67" cy="518.74" r="0.95" fill="#404040"/>
<circle cx="215.57" cy="517.95" r="0.95" fill="#404040"/>
<circle cx="222.45" cy="519.16" r="0.95" fill="#404040"/>
<circle cx="218.06" cy="518.78" r="0.95" fill="#404040"/>
<circle cx="220.99" cy="518.23" r="0.95" fill="#404040"/>
<circle cx="217.86" cy="519.32" r="0.95" fill="#404040"/>
<circle cx="219.25" cy="518.51" r="0.95" fill="#404040"/>
<circle cx="220.16" cy="518.93" r="0.95" fill="#404040"/>
<circle cx="218.37" cy="517.52" r="0.95" fill="#404040"/>
<circle cx="215.87" cy="518.30" r="0.95" fill="#404040"/>
<circle cx="220.90" cy="518.81" r="0.95" fill="#404040"/>
<circle cx="222.94" cy="519.12" r="0.95" fill="#404040"/>
<circle cx="215.67" cy="517.61" r="0.95" fill="#404040"/>
<circle cx="218.22" cy="517.55" r="0.95" fill="#404040"/>
<circle cx="221.74" cy="517.87" r="0.95" fill="#404040"/>
<rect x="230.40" y="494.41" width="10.85" height="30.89" fill="#000"/>
<line x1="235.82" y1="494.41" x2="235.82" y2="491.60" stroke="#000" stroke-width="0.8"/>
<line x1="233.44" y1="491.60" x2="238.21" y2="491.60" stroke="#000" stroke-width="0.8"/>
<circle cx="237.30" cy="496.94" r="0.9" fill="#404040"/>
<circle cx="238.40" cy="492.51" r="0.9" fill="#404040"/>
<circle cx="237.96" cy="497.31" r="0.9" fill="#404040"/>
<circle cx="237.28" cy="488.71" r="0.9" fill="#404040"/>
<circle cx="232.58" cy="493.97" r="0.9" fill="#404040"/>
<circle cx="234.58" cy="494.49" r="0.9" fill="#404040"/>
<circle cx="237.32" cy="491.72" r="0.9" fill="#404040"/>
<circle cx="233.15" cy="493.59" r="0.9" fill="#404040"/>
<circle cx="236.92" cy="492.61" r="0.9" fill="#404040"/>
<circle cx="239.10" cy="498.38" r="0.9" fill="#404040"/>
<circle cx="232.66" cy="492.49" r="0.9" fill="#404040"/>
<circle cx="232.81" cy="489.08" r="0.9" fill="#404040"/>
<circle cx="237.68" cy="496.49" r="0.9" fill="#404040"/>
<circle cx="236.29" cy="493.21" r="0.9" fill="#404040"/>
<rect x="246.50" y="501.08" width="11.00" height="24.22" fill="#ff0000"/>
<line x1="252.00" y1="501.08" x2="252.00" y2="499.33" stroke="#000" stroke-width="0.8"/>
<line x1="249.58" y1="499.33" x2="254.42" y2="499.33" stroke="#000" stroke-width="0.8"/>
<circle cx="251.64" cy="499.65" r="0.9" fill="#404040"/>
<circle cx="249.28" cy="502.90" r="0.9" fill="#404040"/>
<circle cx="253.81" cy="505.26" r="0.9" fill="#404040"/>
<circle cx="252.36" cy="498.62" r="0.9" fill="#404040"/>
<circle cx="250.82" cy="498.76" r="0.9" fill="#404040"/>
<circle cx="251.02" cy="503.35" r="0.9" fill="#404040"/>
<circle cx="248.15" cy="497.47" r="0.9" fill="#404040"/>
<circle cx="249.88" cy="501.04" r="0.9" fill="#404040"/>
<circle cx="250.77" cy="498.48" r="0.9" fill="#404040"/>
<circle cx="251.19" cy="502.70" r="0.9" fill="#404040"/>
<circle cx="254.28" cy="500.68" r="0.9" fill="#404040"/>
<circle cx="254.91" cy="502.51" r="0.9" fill="#404040"/>
<circle cx="250.07" cy="504.84" r="0.9" fill="#404040"/>
<circle cx="248.75" cy="504.96" r="0.9" fill="#404040"/>
<rect x="263.30" y="518.28" width="11.40" height="7.02" fill="#d2d2d2"/>
<line x1="269.00" y1="518.28" x2="269.00" y2="518.07" stroke="#000" stroke-width="0.8"/>
<line x1="266.49" y1="518.07" x2="271.51" y2="518.07" stroke="#000" stroke-width="0.8"/>
<circle cx="271.09" cy="517.86" r="0.95" fill="#404040"/>
<circle cx="266.14" cy="518.98" r="0.95" fill="#404040"/>
<circle cx="271.24" cy="518.54" r="0.95" fill="#404040"/>
<circle cx="271.29" cy="517.79" r="0.95" fill="#404040"/>
<circle cx="265.75" cy="518.21" r="0.95" fill="#404040"/>
<circle cx="266.18" cy="518.58" r="0.95" fill="#404040"/>
<circle cx="269.63" cy="518.33" r="0.95" fill="#404040"/>
<circle cx="266.70" cy="518.95" r="0.95" fill="#404040"/>
<circle cx="264.68" cy="517.85" r="0.95" fill="#404040"/>
<circle cx="272.60" cy="517.81" r="0.95" fill="#404040"/>
<circle cx="267.92" cy="517.53" r="0.95" fill="#404040"/>
<circle cx="269.76" cy="518.29" r="0.95" fill="#404040"/>
<circle cx="273.39" cy="518.13" r="0.95" fill="#404040"/>
<circle cx="267.15" cy="518.03" r="0.95" fill="#404040"/>
<circle cx="268.85" cy="517.70" r="0.95" fill="#404040"/>
<circle cx="271.09" cy="518.19" r="0.95" fill="#404040"/>
<rect x="279.50" y="512.66" width="10.90" height="12.64" fill="#000"/>
<line x1="284.95" y1="512.66" x2="284.95" y2="511.96" stroke="#000" stroke-width="0.8"/>
<line x1="282.55" y1="511.96" x2="287.35" y2="511.96" stroke="#000" stroke-width="0.8"/>
<circle cx="287.22" cy="515.18" r="0.9" fill="#404040"/>
<circle cx="284.88" cy="511.85" r="0.9" fill="#404040"/>
<circle cx="284.62" cy="512.54" r="0.9" fill="#404040"/>
<circle cx="285.20" cy="514.21" r="0.9" fill="#404040"/>
<circle cx="284.95" cy="515.00" r="0.9" fill="#404040"/>
<circle cx="284.48" cy="511.93" r="0.9" fill="#404040"/>
<circle cx="288.81" cy="512.33" r="0.9" fill="#404040"/>
<circle cx="281.89" cy="510.68" r="0.9" fill="#404040"/>
<circle cx="285.99" cy="511.19" r="0.9" fill="#404040"/>
<circle cx="283.77" cy="514.94" r="0.9" fill="#404040"/>
<circle cx="281.40" cy="514.01" r="0.9" fill="#404040"/>
<circle cx="288.56" cy="512.47" r="0.9" fill="#404040"/>
<circle cx="288.06" cy="513.56" r="0.9" fill="#404040"/>
<circle cx="281.88" cy="511.68" r="0.9" fill="#404040"/>
<rect x="296.00" y="516.03" width="11.00" height="9.27" fill="#ff0000"/>
<line x1="301.50" y1="516.03" x2="301.50" y2="515.12" stroke="#000" stroke-width="0.8"/>
<line x1="299.08" y1="515.12" x2="303.92" y2="515.12" stroke="#000" stroke-width="0.8"/>
<circle cx="302.35" cy="514.71" r="0.9" fill="#404040"/>
<circle cx="303.31" cy="514.45" r="0.9" fill="#404040"/>
<circle cx="300.19" cy="515.15" r="0.9" fill="#404040"/>
<circle cx="305.13" cy="514.90" r="0.9" fill="#404040"/>
<circle cx="300.97" cy="514.69" r="0.9" fill="#404040"/>
<circle cx="301.37" cy="515.08" r="0.9" fill="#404040"/>
<circle cx="297.66" cy="517.48" r="0.9" fill="#404040"/>
<circle cx="298.98" cy="517.60" r="0.9" fill="#404040"/>
<circle cx="301.48" cy="517.29" r="0.9" fill="#404040"/>
<circle cx="301.81" cy="515.29" r="0.9" fill="#404040"/>
<circle cx="302.75" cy="516.32" r="0.9" fill="#404040"/>
<circle cx="301.20" cy="516.76" r="0.9" fill="#404040"/>
<circle cx="300.67" cy="515.08" r="0.9" fill="#404040"/>
<circle cx="304.86" cy="517.22" r="0.9" fill="#404040"/>
<rect x="312.20" y="518.28" width="11.60" height="7.02" fill="#d2d2d2"/>
<line x1="318.00" y1="518.28" x2="318.00" y2="517.86" stroke="#000" stroke-width="0.8"/>
<line x1="315.45" y1="517.86" x2="320.55" y2="517.86" stroke="#000" stroke-width="0.8"/>
<circle cx="316.78" cy="517.97" r="0.95" fill="#404040"/>
<circle cx="318.27" cy="518.63" r="0.95" fill="#404040"/>
<circle cx="315.46" cy="518.20" r="0.95" fill="#404040"/>
<circle cx="315.32" cy="519.33" r="0.95" fill="#404040"/>
<circle cx="314.72" cy="517.85" r="0.95" fill="#404040"/>
<circle cx="315.20" cy="518.46" r="0.95" fill="#404040"/>
<circle cx="314.97" cy="518.94" r="0.95" fill="#404040"/>
<circle cx="314.95" cy="518.57" r="0.95" fill="#404040"/>
<circle cx="314.41" cy="519.28" r="0.95" fill="#404040"/>
<circle cx="317.91" cy="519.01" r="0.95" fill="#404040"/>
<circle cx="313.61" cy="519.22" r="0.95" fill="#404040"/>
<circle cx="317.15" cy="518.48" r="0.95" fill="#404040"/>
<circle cx="313.87" cy="518.00" r="0.95" fill="#404040"/>
<circle cx="317.05" cy="518.57" r="0.95" fill="#404040"/>
<circle cx="322.28" cy="519.28" r="0.95" fill="#404040"/>
<circle cx="314.27" cy="518.92" r="0.95" fill="#404040"/>
<rect x="328.80" y="506.70" width="11.40" height="18.60" fill="#000"/>
<line x1="334.50" y1="506.70" x2="334.50" y2="504.24" stroke="#000" stroke-width="0.8"/>
<line x1="331.99" y1="504.24" x2="337.01" y2="504.24" stroke="#000" stroke-width="0.8"/>
<circle cx="331.68" cy="506.89" r="0.9" fill="#404040"/>
<circle cx="333.21" cy="505.79" r="0.9" fill="#404040"/>
<circle cx="330.74" cy="509.50" r="0.9" fill="#404040"/>
<circle cx="332.61" cy="505.00" r="0.9" fill="#404040"/>
<circle cx="334.21" cy="504.56" r="0.9" fill="#404040"/>
<circle cx="332.82" cy="503.48" r="0.9" fill="#404040"/>
<circle cx="332.53" cy="508.56" r="0.9" fill="#404040"/>
<circle cx="335.58" cy="504.36" r="0.9" fill="#404040"/>
<circle cx="331.09" cy="507.85" r="0.9" fill="#404040"/>
<circle cx="338.44" cy="505.34" r="0.9" fill="#404040"/>
<circle cx="330.33" cy="506.01" r="0.9" fill="#404040"/>
<circle cx="331.06" cy="510.19" r="0.9" fill="#404040"/>
<circle cx="330.61" cy="509.15" r="0.9" fill="#404040"/>
<circle cx="335.80" cy="510.02" r="0.9" fill="#404040"/>
<rect x="345.00" y="511.61" width="11.50" height="13.69" fill="#ff0000"/>
<line x1="350.75" y1="511.61" x2="350.75" y2="510.21" stroke="#000" stroke-width="0.8"/>
<line x1="348.22" y1="510.21" x2="353.28" y2="510.21" stroke="#000" stroke-width="0.8"/>
<circle cx="348.24" cy="509.42" r="0.9" fill="#404040"/>
<circle cx="350.56" cy="509.02" r="0.9" fill="#404040"/>
<circle cx="354.26" cy="509.95" r="0.9" fill="#404040"/>
<circle cx="346.84" cy="509.20" r="0.9" fill="#404040"/>
<circle cx="351.65" cy="512.68" r="0.9" fill="#404040"/>
<circle cx="347.29" cy="509.17" r="0.9" fill="#404040"/>
<circle cx="353.69" cy="512.74" r="0.9" fill="#404040"/>
<circle cx="349.82" cy="513.72" r="0.9" fill="#404040"/>
<circle cx="352.26" cy="512.52" r="0.9" fill="#404040"/>
<circle cx="348.02" cy="509.26" r="0.9" fill="#404040"/>
<circle cx="352.72" cy="510.30" r="0.9" fill="#404040"/>
<circle cx="351.20" cy="509.77" r="0.9" fill="#404040"/>
<circle cx="349.60" cy="509.29" r="0.9" fill="#404040"/>
<circle cx="348.48" cy="512.08" r="0.9" fill="#404040"/>
<circle cx="236.36" cy="460.01" r="1.08" fill="#404040"/>
<circle cx="235.76" cy="463.52" r="1.08" fill="#404040"/>
<circle cx="235.34" cy="467.03" r="1.08" fill="#404040"/>
<circle cx="235.14" cy="474.76" r="1.08" fill="#404040"/>
<circle cx="252.88" cy="484.58" r="1.08" fill="#404040"/>
<circle cx="252.42" cy="487.39" r="1.08" fill="#404040"/>
<circle cx="252.84" cy="490.20" r="1.08" fill="#404040"/>
<circle cx="334.27" cy="482.48" r="1.08" fill="#404040"/>
<circle cx="334.47" cy="492.31" r="1.08" fill="#404040"/>
<circle cx="333.81" cy="495.11" r="1.08" fill="#404040"/>
<line x1="210.60" y1="452.00" x2="210.60" y2="525.30" stroke="#c8c8c8" stroke-width="0.5" stroke-dasharray="1,1"/>
<line x1="260.50" y1="452.00" x2="260.50" y2="525.30" stroke="#c8c8c8" stroke-width="0.5" stroke-dasharray="1,1"/>
<line x1="310.00" y1="452.00" x2="310.00" y2="525.30" stroke="#c8c8c8" stroke-width="0.5" stroke-dasharray="1,1"/>
<text x="177.00" y="450.40" font-size="8.4" font-weight="bold" fill="#a31c22" font-style="italic" textLength="20.90" lengthAdjust="spacingAndGlyphs" stroke="#a31c22" stroke-width="0.34">cox-2</text>
<text x="229.80" y="450.40" font-size="8.4" font-weight="bold" fill="#a31c22" font-style="italic" textLength="11.00" lengthAdjust="spacingAndGlyphs" stroke="#a31c22" stroke-width="0.34">il-6</text>
<text x="327.00" y="450.40" font-size="8.4" font-weight="bold" fill="#a31c22" font-style="italic" textLength="16.40" lengthAdjust="spacingAndGlyphs" stroke="#a31c22" stroke-width="0.34">inos</text>
<text x="277.90" y="450.70" font-size="8.6" font-weight="bold" fill="#a31c22" font-style="italic" textLength="10.00" lengthAdjust="spacingAndGlyphs" stroke="#a31c22" stroke-width="0.34">il-1</text>
<text x="289.40" y="450.70" font-size="8.0" font-family="Liberation Serif" font-style="italic" fill="#a31c22" textLength="5.70" lengthAdjust="spacingAndGlyphs" stroke="#a31c22" stroke-width="0.35">β</text>
<line x1="169.80" y1="459.20" x2="185.00" y2="459.20" stroke="#555" stroke-width="1.0"/>
<text x="172.83" y="458.57" font-size="7.2" font-weight="bold" stroke="#000" stroke-width="0.29" letter-spacing="0.40">***</text>
<line x1="187.60" y1="459.20" x2="202.70" y2="459.20" stroke="#999" stroke-width="1.0"/>
<text x="190.58" y="458.57" font-size="7.2" font-weight="bold" stroke="#000" stroke-width="0.29" letter-spacing="0.40">***</text>
<line x1="219.40" y1="459.20" x2="234.50" y2="459.20" stroke="#555" stroke-width="1.0"/>
<text x="222.38" y="458.57" font-size="7.2" font-weight="bold" stroke="#000" stroke-width="0.29" letter-spacing="0.40">***</text>
<line x1="268.50" y1="459.20" x2="283.00" y2="459.20" stroke="#999" stroke-width="1.0"/>
<text x="271.18" y="458.57" font-size="7.2" font-weight="bold" stroke="#000" stroke-width="0.29" letter-spacing="0.40">***</text>
<line x1="285.10" y1="459.20" x2="300.40" y2="459.20" stroke="#555" stroke-width="1.0"/>
<text x="291.38" y="458.27" font-size="7.2" font-weight="bold" stroke="#000" stroke-width="0.29" letter-spacing="1.50">*</text>
<line x1="317.20" y1="459.20" x2="331.90" y2="459.20" stroke="#555" stroke-width="1.0"/>
<text x="319.98" y="458.57" font-size="7.2" font-weight="bold" stroke="#000" stroke-width="0.29" letter-spacing="0.40">***</text>
<text x="170.40" y="534.70" font-size="7.2" font-weight="bold" text-anchor="middle" textLength="4.60" lengthAdjust="spacingAndGlyphs" stroke="#000" stroke-width="0.29">V</text>
<text x="186.25" y="534.70" font-size="7.2" font-weight="bold" text-anchor="middle" textLength="4.00" lengthAdjust="spacingAndGlyphs" stroke="#000" stroke-width="0.29">L</text>
<text x="202.90" y="534.70" font-size="7.2" font-weight="bold" text-anchor="middle" textLength="12.30" lengthAdjust="spacingAndGlyphs" stroke="#000" stroke-width="0.29">F+L</text>
<text x="202.90" y="541.00" font-size="6.4" text-anchor="middle" textLength="18.40" lengthAdjust="spacingAndGlyphs" stroke="#000" stroke-width="0.26">(5 μM)</text>
<text x="219.38" y="534.70" font-size="7.2" font-weight="bold" text-anchor="middle" textLength="4.60" lengthAdjust="spacingAndGlyphs" stroke="#000" stroke-width="0.29">V</text>
<text x="235.82" y="534.70" font-size="7.2" font-weight="bold" text-anchor="middle" textLength="4.00" lengthAdjust="spacingAndGlyphs" stroke="#000" stroke-width="0.29">L</text>
<text x="252.00" y="534.70" font-size="7.2" font-weight="bold" text-anchor="middle" textLength="12.30" lengthAdjust="spacingAndGlyphs" stroke="#000" stroke-width="0.29">F+L</text>
<text x="252.00" y="541.00" font-size="6.4" text-anchor="middle" textLength="18.40" lengthAdjust="spacingAndGlyphs" stroke="#000" stroke-width="0.26">(5 μM)</text>
<text x="269.00" y="534.70" font-size="7.2" font-weight="bold" text-anchor="middle" textLength="4.60" lengthAdjust="spacingAndGlyphs" stroke="#000" stroke-width="0.29">V</text>
<text x="284.95" y="534.70" font-size="7.2" font-weight="bold" text-anchor="middle" textLength="4.00" lengthAdjust="spacingAndGlyphs" stroke="#000" stroke-width="0.29">L</text>
<text x="301.50" y="534.70" font-size="7.2" font-weight="bold" text-anchor="middle" textLength="12.30" lengthAdjust="spacingAndGlyphs" stroke="#000" stroke-width="0.29">F+L</text>
<text x="301.50" y="541.00" font-size="6.4" text-anchor="middle" textLength="18.40" lengthAdjust="spacingAndGlyphs" stroke="#000" stroke-width="0.26">(5 μM)</text>
<text x="318.00" y="534.70" font-size="7.2" font-weight="bold" text-anchor="middle" textLength="4.60" lengthAdjust="spacingAndGlyphs" stroke="#000" stroke-width="0.29">V</text>
<text x="334.50" y="534.70" font-size="7.2" font-weight="bold" text-anchor="middle" textLength="4.00" lengthAdjust="spacingAndGlyphs" stroke="#000" stroke-width="0.29">L</text>
<text x="350.75" y="534.70" font-size="7.2" font-weight="bold" text-anchor="middle" textLength="12.30" lengthAdjust="spacingAndGlyphs" stroke="#000" stroke-width="0.29">F+L</text>
<text x="350.75" y="541.00" font-size="6.4" text-anchor="middle" textLength="18.40" lengthAdjust="spacingAndGlyphs" stroke="#000" stroke-width="0.26">(5 μM)</text>
<rect x="168.30" y="419.10" width="6.50" height="6.80" fill="#d2d2d2"/>
<text x="176.40" y="424.80" font-size="6.4" font-weight="bold" textLength="20.70" lengthAdjust="spacingAndGlyphs" stroke="#000" stroke-width="0.26">Vehicle</text>
<rect x="168.30" y="428.50" width="6.50" height="6.50" fill="#000"/>
<text x="176.40" y="434.20" font-size="6.4" font-weight="bold" textLength="11.60" lengthAdjust="spacingAndGlyphs" stroke="#000" stroke-width="0.26">LPS</text>
<rect x="168.30" y="438.50" width="6.50" height="6.00" fill="#ff0000"/>
<text x="176.40" y="444.10" font-size="6.4" font-weight="bold" textLength="45.70" lengthAdjust="spacingAndGlyphs" stroke="#000" stroke-width="0.26">Felodipine+LPS</text>
<text x="248.75" y="436.70" font-size="10.6" font-weight="bold" textLength="40.00" lengthAdjust="spacingAndGlyphs" stroke="#000" stroke-width="0.35">RT-PCR</text>
<rect x="374.00" y="419.20" width="6.60" height="7.10" fill="#d2d2d2"/>
<text x="382.60" y="425.00" font-size="6.0" font-weight="bold" textLength="19.90" lengthAdjust="spacingAndGlyphs" stroke="#000" stroke-width="0.24">Vehicle</text>
<rect x="374.00" y="428.90" width="6.60" height="6.70" fill="#000"/>
<text x="382.60" y="434.20" font-size="6.0" font-weight="bold" textLength="11.30" lengthAdjust="spacingAndGlyphs" stroke="#000" stroke-width="0.24">LPS</text>
<rect x="374.00" y="438.20" width="6.60" height="6.20" fill="#ff0000"/>
<text x="382.60" y="443.50" font-size="6.0" font-weight="bold" textLength="43.80" lengthAdjust="spacingAndGlyphs" stroke="#000" stroke-width="0.24">Felodipine+LPS</text>
<text x="433.75" y="437.70" font-size="10.6" font-weight="bold" textLength="29.50" lengthAdjust="spacingAndGlyphs" stroke="#000" stroke-width="0.35">ELISA</text>
<text x="402.00" y="451.90" font-size="6.4" font-weight="bold" fill="#a31c22" textLength="18.40" lengthAdjust="spacingAndGlyphs" stroke="#a31c22" stroke-width="0.26">COX-2</text>
<line x1="381.20" y1="525.40" x2="381.20" y2="456.10" stroke="#444" stroke-width="1.0"/>
<line x1="379.00" y1="524.90" x2="381.20" y2="524.90" stroke="#444" stroke-width="1.0"/>
<text x="378.30" y="527.20" font-size="6.4" font-weight="bold" text-anchor="end" textLength="3.10" lengthAdjust="spacingAndGlyphs" stroke="#000" stroke-width="0.26">0</text>
<line x1="379.00" y1="507.70" x2="381.20" y2="507.70" stroke="#444" stroke-width="1.0"/>
<text x="378.30" y="510.00" font-size="6.4" font-weight="bold" text-anchor="end" textLength="12.40" lengthAdjust="spacingAndGlyphs" stroke="#000" stroke-width="0.26">2000</text>
<line x1="379.00" y1="490.50" x2="381.20" y2="490.50" stroke="#444" stroke-width="1.0"/>
<text x="378.30" y="492.80" font-size="6.4" font-weight="bold" text-anchor="end" textLength="12.40" lengthAdjust="spacingAndGlyphs" stroke="#000" stroke-width="0.26">4000</text>
<line x1="379.00" y1="473.30" x2="381.20" y2="473.30" stroke="#444" stroke-width="1.0"/>
<text x="378.30" y="475.60" font-size="6.4" font-weight="bold" text-anchor="end" textLength="12.40" lengthAdjust="spacingAndGlyphs" stroke="#000" stroke-width="0.26">6000</text>
<line x1="379.00" y1="456.10" x2="381.20" y2="456.10" stroke="#444" stroke-width="1.0"/>
<text x="378.30" y="458.40" font-size="6.4" font-weight="bold" text-anchor="end" textLength="12.40" lengthAdjust="spacingAndGlyphs" stroke="#000" stroke-width="0.26">8000</text>
<text x="363.30" y="491.00" font-size="6.9" text-anchor="middle" font-weight="bold" textLength="70.90" lengthAdjust="spacingAndGlyphs" transform="rotate(-90 363.30 491.00)" stroke="#000" stroke-width="0.28">COX-2 protein (pg/ml)</text>
<line x1="380.70" y1="524.90" x2="440.00" y2="524.90" stroke="#000" stroke-width="1.0"/>
<line x1="391.50" y1="524.90" x2="391.50" y2="526.90" stroke="#000" stroke-width="1.0"/>
<line x1="411.60" y1="524.90" x2="411.60" y2="526.90" stroke="#000" stroke-width="1.0"/>
<line x1="431.30" y1="524.90" x2="431.30" y2="526.90" stroke="#000" stroke-width="1.0"/>
<rect x="384.00" y="510.71" width="15.00" height="14.19" fill="#d2d2d2"/>
<line x1="391.50" y1="510.71" x2="391.50" y2="508.56" stroke="#000" stroke-width="0.8"/>
<line x1="388.20" y1="508.56" x2="394.80" y2="508.56" stroke="#000" stroke-width="0.8"/>
<rect x="404.60" y="494.80" width="14.00" height="30.10" fill="#000"/>
<line x1="411.60" y1="494.80" x2="411.60" y2="489.64" stroke="#000" stroke-width="0.8"/>
<line x1="408.52" y1="489.64" x2="414.68" y2="489.64" stroke="#000" stroke-width="0.8"/>
<rect x="424.60" y="509.42" width="13.40" height="15.48" fill="#ff0000"/>
<line x1="431.30" y1="509.42" x2="431.30" y2="507.70" stroke="#000" stroke-width="0.8"/>
<line x1="428.35" y1="507.70" x2="434.25" y2="507.70" stroke="#000" stroke-width="0.8"/>
<circle cx="393.19" cy="499.10" r="1.2" fill="#404040"/>
<circle cx="387.68" cy="505.98" r="1.2" fill="#404040"/>
<circle cx="391.24" cy="508.56" r="1.2" fill="#404040"/>
<circle cx="393.57" cy="510.28" r="1.2" fill="#404040"/>
<circle cx="392.92" cy="512.00" r="1.2" fill="#404040"/>
<circle cx="388.28" cy="514.58" r="1.2" fill="#404040"/>
<circle cx="389.40" cy="515.44" r="1.2" fill="#404040"/>
<circle cx="412.29" cy="467.28" r="1.2" fill="#404040"/>
<circle cx="411.88" cy="485.34" r="1.2" fill="#404040"/>
<circle cx="412.36" cy="498.24" r="1.2" fill="#404040"/>
<circle cx="435.02" cy="505.12" r="1.2" fill="#404040"/>
<circle cx="430.80" cy="505.55" r="1.2" fill="#404040"/>
<circle cx="435.27" cy="505.98" r="1.2" fill="#404040"/>
<circle cx="433.63" cy="506.84" r="1.2" fill="#404040"/>
<circle cx="429.64" cy="513.72" r="1.2" fill="#404040"/>
<circle cx="430.00" cy="518.02" r="1.2" fill="#404040"/>
<line x1="391.00" y1="459.60" x2="407.40" y2="459.60" stroke="#555" stroke-width="1.0"/>
<text x="395.65" y="459.88" font-size="8.4" font-weight="bold" stroke="#000" stroke-width="0.34" letter-spacing="0.63">**</text>
<line x1="413.40" y1="459.60" x2="432.00" y2="459.60" stroke="#555" stroke-width="1.0"/>
<text x="421.10" y="459.38" font-size="8.4" font-weight="bold" stroke="#000" stroke-width="0.34" letter-spacing="1.03">*</text>
<text x="391.50" y="534.20" font-size="7.4" font-weight="bold" text-anchor="middle" stroke="#000" stroke-width="0.30">V</text>
<text x="411.60" y="534.20" font-size="7.4" font-weight="bold" text-anchor="middle" stroke="#000" stroke-width="0.30">L</text>
<text x="431.30" y="534.20" font-size="7.4" font-weight="bold" text-anchor="middle" stroke="#000" stroke-width="0.30">F+L</text>
<text x="431.30" y="539.40" font-size="4.2" font-weight="bold" text-anchor="middle" stroke="#000" stroke-width="0.17">(5 μM)</text>
<text x="482.50" y="452.30" font-size="6.3" font-weight="bold" fill="#a31c22" textLength="12.90" lengthAdjust="spacingAndGlyphs" stroke="#a31c22" stroke-width="0.25">IL-1β</text>
<line x1="458.60" y1="525.40" x2="458.60" y2="457.30" stroke="#444" stroke-width="1.0"/>
<line x1="456.40" y1="524.90" x2="458.60" y2="524.90" stroke="#444" stroke-width="1.0"/>
<text x="456.40" y="527.20" font-size="6.4" font-weight="bold" text-anchor="end" textLength="3.03" lengthAdjust="spacingAndGlyphs" stroke="#000" stroke-width="0.26">0</text>
<line x1="456.40" y1="508.00" x2="458.60" y2="508.00" stroke="#444" stroke-width="1.0"/>
<text x="456.40" y="510.30" font-size="6.4" font-weight="bold" text-anchor="end" textLength="9.09" lengthAdjust="spacingAndGlyphs" stroke="#000" stroke-width="0.26">100</text>
<line x1="456.40" y1="491.10" x2="458.60" y2="491.10" stroke="#444" stroke-width="1.0"/>
<text x="456.40" y="493.40" font-size="6.4" font-weight="bold" text-anchor="end" textLength="9.09" lengthAdjust="spacingAndGlyphs" stroke="#000" stroke-width="0.26">200</text>
<line x1="456.40" y1="474.20" x2="458.60" y2="474.20" stroke="#444" stroke-width="1.0"/>
<text x="456.40" y="476.50" font-size="6.4" font-weight="bold" text-anchor="end" textLength="9.09" lengthAdjust="spacingAndGlyphs" stroke="#000" stroke-width="0.26">300</text>
<line x1="456.40" y1="457.30" x2="458.60" y2="457.30" stroke="#444" stroke-width="1.0"/>
<text x="456.40" y="459.60" font-size="6.4" font-weight="bold" text-anchor="end" textLength="9.09" lengthAdjust="spacingAndGlyphs" stroke="#000" stroke-width="0.26">400</text>
<text x="445.90" y="490.00" font-size="6.6" text-anchor="middle" font-weight="bold" textLength="64.00" lengthAdjust="spacingAndGlyphs" transform="rotate(-90 445.90 490.00)" stroke="#000" stroke-width="0.26">IL-1β protein (pg/ml)</text>
<line x1="458.10" y1="524.90" x2="520.00" y2="524.90" stroke="#000" stroke-width="1.0"/>
<line x1="470.00" y1="524.90" x2="470.00" y2="526.90" stroke="#000" stroke-width="1.0"/>
<line x1="489.40" y1="524.90" x2="489.40" y2="526.90" stroke="#000" stroke-width="1.0"/>
<line x1="509.40" y1="524.90" x2="509.40" y2="526.90" stroke="#000" stroke-width="1.0"/>
<rect x="463.00" y="503.27" width="14.00" height="21.63" fill="#d2d2d2"/>
<line x1="470.00" y1="503.27" x2="470.00" y2="499.55" stroke="#000" stroke-width="0.8"/>
<line x1="466.92" y1="499.55" x2="473.08" y2="499.55" stroke="#000" stroke-width="0.8"/>
<rect x="482.40" y="493.13" width="14.00" height="31.77" fill="#000"/>
<line x1="489.40" y1="493.13" x2="489.40" y2="489.07" stroke="#000" stroke-width="0.8"/>
<line x1="486.32" y1="489.07" x2="492.48" y2="489.07" stroke="#000" stroke-width="0.8"/>
<rect x="502.40" y="516.45" width="14.00" height="8.45" fill="#ff0000"/>
<line x1="509.40" y1="516.45" x2="509.40" y2="514.76" stroke="#000" stroke-width="0.8"/>
<line x1="506.32" y1="514.76" x2="512.48" y2="514.76" stroke="#000" stroke-width="0.8"/>
<circle cx="466.58" cy="477.58" r="1.2" fill="#404040"/>
<circle cx="469.19" cy="501.24" r="1.2" fill="#404040"/>
<circle cx="473.65" cy="502.93" r="1.2" fill="#404040"/>
<circle cx="466.84" cy="504.62" r="1.2" fill="#404040"/>
<circle cx="470.55" cy="508.00" r="1.2" fill="#404040"/>
<circle cx="466.88" cy="511.38" r="1.2" fill="#404040"/>
<circle cx="466.65" cy="522.37" r="1.2" fill="#404040"/>
<circle cx="489.70" cy="469.98" r="1.2" fill="#404040"/>
<circle cx="488.88" cy="482.65" r="1.2" fill="#404040"/>
<circle cx="488.50" cy="491.10" r="1.2" fill="#404040"/>
<circle cx="505.93" cy="510.53" r="1.2" fill="#404040"/>
<circle cx="510.85" cy="511.38" r="1.2" fill="#404040"/>
<circle cx="510.26" cy="512.23" r="1.2" fill="#404040"/>
<circle cx="504.52" cy="514.76" r="1.2" fill="#404040"/>
<circle cx="506.70" cy="516.45" r="1.2" fill="#404040"/>
<circle cx="514.07" cy="518.14" r="1.2" fill="#404040"/>
<circle cx="506.60" cy="523.21" r="1.2" fill="#404040"/>
<line x1="492.40" y1="460.40" x2="509.60" y2="460.40" stroke="#555" stroke-width="1.0"/>
<text x="495.50" y="460.68" font-size="8.4" font-weight="bold" stroke="#000" stroke-width="0.34" letter-spacing="0.63">***</text>
<text x="470.00" y="534.20" font-size="7.4" font-weight="bold" text-anchor="middle" stroke="#000" stroke-width="0.30">V</text>
<text x="489.40" y="534.20" font-size="7.4" font-weight="bold" text-anchor="middle" stroke="#000" stroke-width="0.30">L</text>
<text x="509.40" y="534.20" font-size="7.4" font-weight="bold" text-anchor="middle" stroke="#000" stroke-width="0.30">F+L</text>
<text x="509.40" y="539.40" font-size="4.2" font-weight="bold" text-anchor="middle" stroke="#000" stroke-width="0.17">(5 μM)</text>
</g>
</svg></body></html>
